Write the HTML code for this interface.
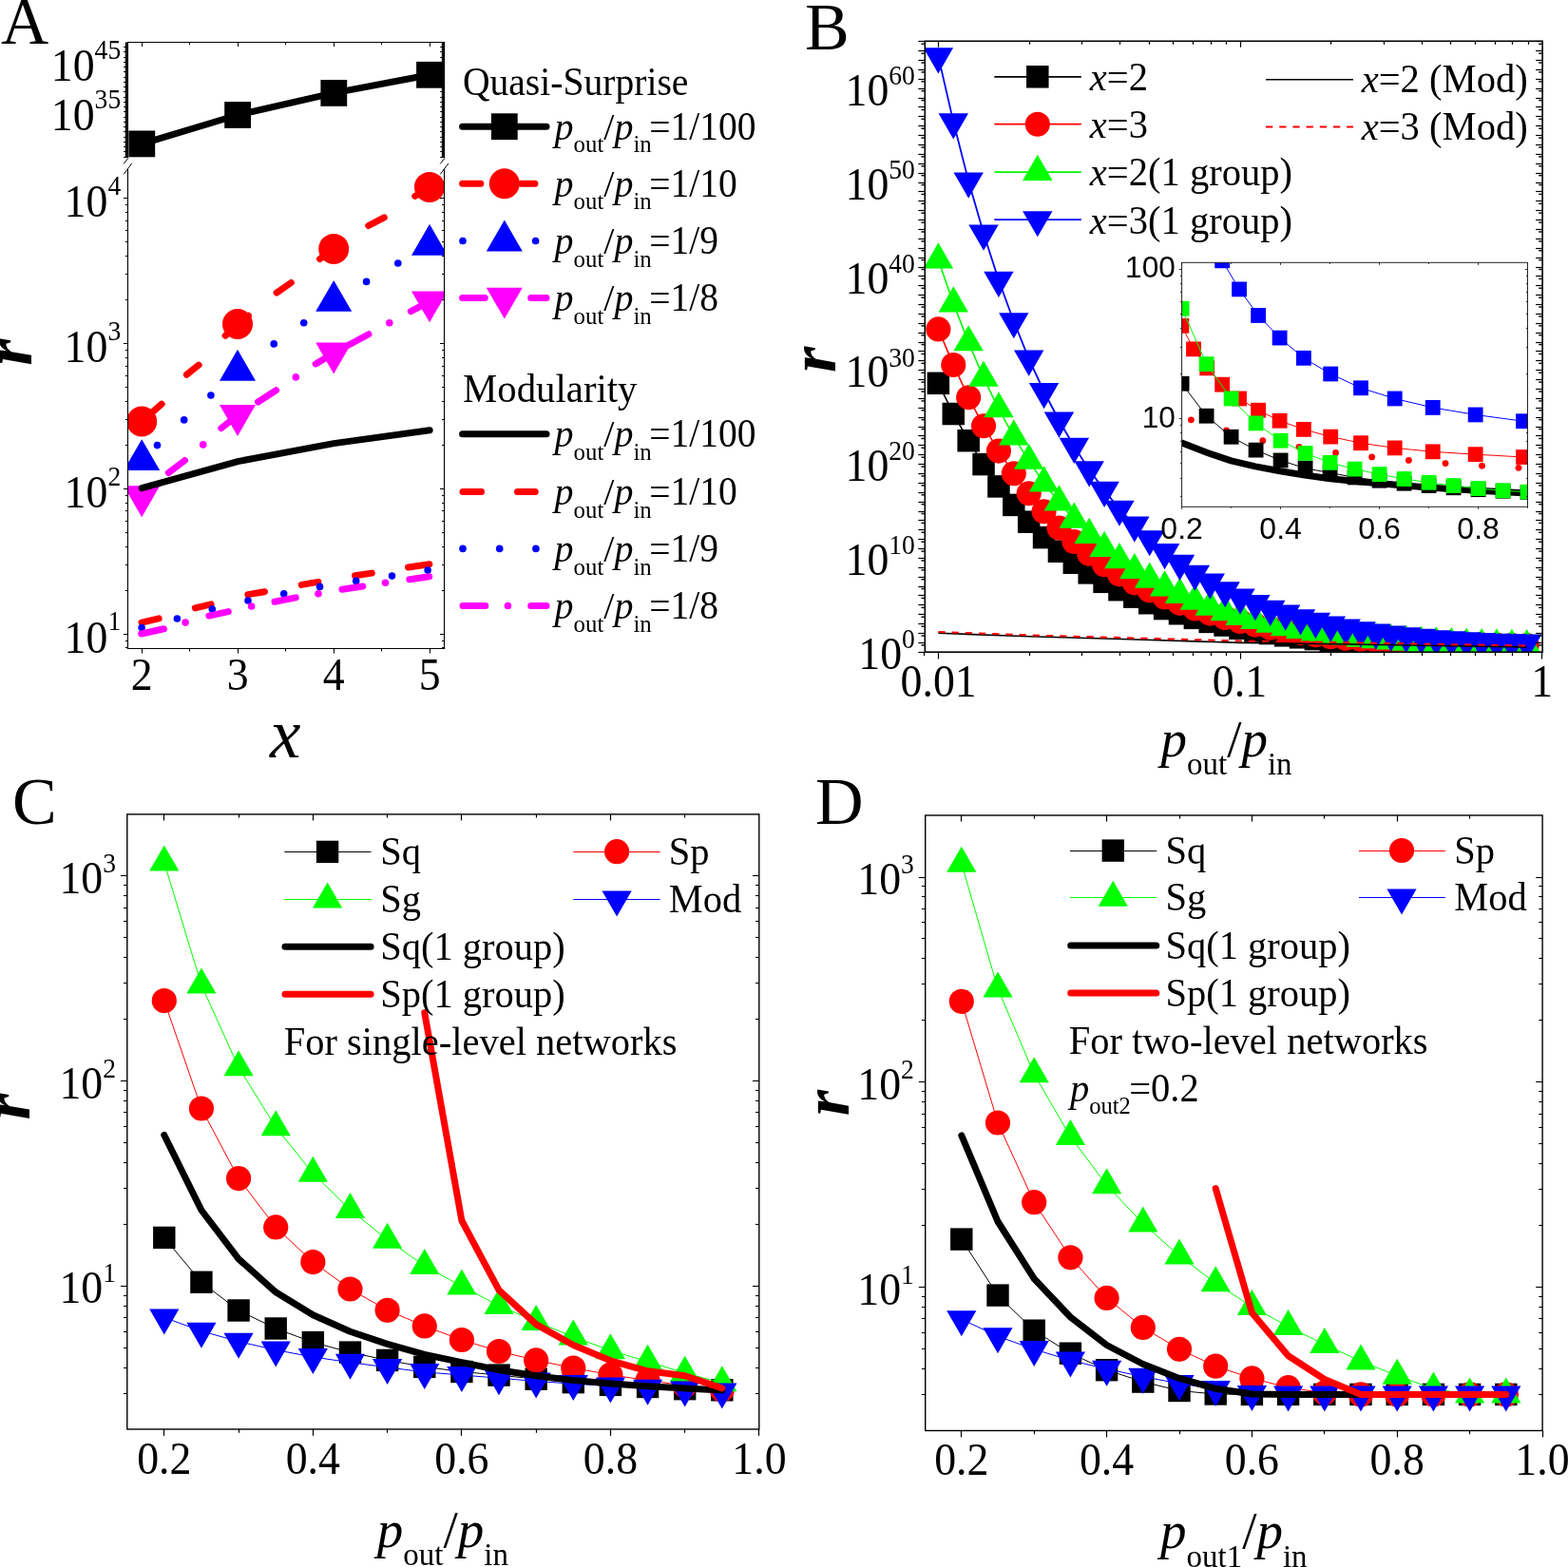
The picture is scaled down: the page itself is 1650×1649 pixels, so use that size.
<!DOCTYPE html>
<html><head><meta charset="utf-8"><title>Figure</title>
<style>
html,body{margin:0;padding:0;background:#fff;}
svg{display:block;}
text{fill:#000;}
</style></head>
<body>
<svg xmlns="http://www.w3.org/2000/svg" width="1650" height="1649" viewBox="0 0 1650 1649">
<rect x="0" y="0" width="1650" height="1649" fill="#fff"/>
<!-- Panel A -->
<text x="1.1" y="45.8" font-family='"Liberation Serif", "Times New Roman", serif' font-size="69.5" text-anchor="start"  >A</text>
<clipPath id="clipA1"><rect x="134.5" y="44.5" width="333.1" height="121.4"/></clipPath>
<g clip-path="url(#clipA1)">
<polyline points="149.3,151.4 250.1,121 351.3,97.9 452,78.8" fill="none" stroke="#000000" stroke-width="7" stroke-linecap="round" stroke-linejoin="round" />
<rect x="135.4" y="137.5" width="27.8" height="27.8" fill="#000000"/>
<rect x="236.2" y="107.1" width="27.8" height="27.8" fill="#000000"/>
<rect x="337.4" y="84" width="27.8" height="27.8" fill="#000000"/>
<rect x="438.1" y="64.9" width="27.8" height="27.8" fill="#000000"/>
</g>
<clipPath id="clipA2"><rect x="134.5" y="174" width="333.1" height="508.5"/></clipPath>
<g clip-path="url(#clipA2)">
<line x1="149" y1="655.18" x2="167.2" y2="650.82" stroke="#ff0000" stroke-width="7" stroke-linecap="round" />
<line x1="205.31" y1="639.79" x2="222.09" y2="635.81" stroke="#ff0000" stroke-width="7" stroke-linecap="round" />
<line x1="260.85" y1="625.62" x2="278.45" y2="622.68" stroke="#ff0000" stroke-width="7" stroke-linecap="round" />
<line x1="317.25" y1="615.41" x2="334.85" y2="612.39" stroke="#ff0000" stroke-width="7" stroke-linecap="round" />
<line x1="373.56" y1="605.78" x2="391.24" y2="603.12" stroke="#ff0000" stroke-width="7" stroke-linecap="round" />
<line x1="429.56" y1="597" x2="451.84" y2="593.8" stroke="#ff0000" stroke-width="7" stroke-linecap="round" />
<circle cx="149.1" cy="660.5" r="3.8" fill="#0000ff"/>
<circle cx="186.4" cy="651" r="3.8" fill="#0000ff"/>
<circle cx="223.3" cy="641" r="3.8" fill="#0000ff"/>
<circle cx="261" cy="632" r="3.8" fill="#0000ff"/>
<circle cx="298.7" cy="624.7" r="3.8" fill="#0000ff"/>
<circle cx="336.5" cy="617.4" r="3.8" fill="#0000ff"/>
<circle cx="374.7" cy="611.4" r="3.8" fill="#0000ff"/>
<circle cx="412.5" cy="606.1" r="3.8" fill="#0000ff"/>
<circle cx="450.1" cy="600.1" r="3.8" fill="#0000ff"/>
<line x1="148.72" y1="667.04" x2="172.48" y2="661.76" stroke="#ff00ff" stroke-width="7" stroke-linecap="round" />
<line x1="219.82" y1="648.05" x2="240.28" y2="643.55" stroke="#ff00ff" stroke-width="7" stroke-linecap="round" />
<line x1="289.03" y1="633.23" x2="311.27" y2="628.87" stroke="#ff00ff" stroke-width="7" stroke-linecap="round" />
<line x1="359.96" y1="620.27" x2="381.74" y2="616.93" stroke="#ff00ff" stroke-width="7" stroke-linecap="round" />
<line x1="430.87" y1="609.71" x2="451.73" y2="606.79" stroke="#ff00ff" stroke-width="7" stroke-linecap="round" />
<circle cx="195.1" cy="655.1" r="3.8" fill="#ff00ff"/>
<circle cx="264.6" cy="638" r="3.8" fill="#ff00ff"/>
<circle cx="335" cy="624.7" r="3.8" fill="#ff00ff"/>
<circle cx="405.5" cy="613.2" r="3.8" fill="#ff00ff"/>
<line x1="149.2" y1="443.5" x2="170.16" y2="425.2" stroke="#ff0000" stroke-width="7" stroke-linecap="round" />
<line x1="196.43" y1="394.31" x2="209.17" y2="384.09" stroke="#ff0000" stroke-width="7" stroke-linecap="round" />
<line x1="237.14" y1="353.19" x2="250" y2="341" stroke="#ff0000" stroke-width="7" stroke-linecap="round" />
<line x1="250" y1="341" x2="261.42" y2="332.23" stroke="#ff0000" stroke-width="7" stroke-linecap="round" />
<line x1="291.07" y1="308.1" x2="306.33" y2="297.5" stroke="#ff0000" stroke-width="7" stroke-linecap="round" />
<line x1="336.53" y1="272.54" x2="351.2" y2="261.9" stroke="#ff0000" stroke-width="7" stroke-linecap="round" />
<line x1="387.71" y1="237.49" x2="404.29" y2="228.91" stroke="#ff0000" stroke-width="7" stroke-linecap="round" />
<line x1="436.77" y1="206.35" x2="452" y2="196.9" stroke="#ff0000" stroke-width="7" stroke-linecap="round" />
<circle cx="165.5" cy="468.6" r="3.8" fill="#0000ff"/>
<circle cx="193.7" cy="441.9" r="3.8" fill="#0000ff"/>
<circle cx="221.9" cy="416" r="3.8" fill="#0000ff"/>
<circle cx="288.2" cy="361.9" r="3.8" fill="#0000ff"/>
<circle cx="319.7" cy="339.7" r="3.8" fill="#0000ff"/>
<circle cx="385.6" cy="296.4" r="3.8" fill="#0000ff"/>
<circle cx="418.8" cy="277" r="3.8" fill="#0000ff"/>
<line x1="177.39" y1="497.49" x2="194.51" y2="484.51" stroke="#ff00ff" stroke-width="7" stroke-linecap="round" />
<line x1="232.84" y1="450.62" x2="250" y2="437" stroke="#ff00ff" stroke-width="7" stroke-linecap="round" />
<line x1="271.54" y1="423" x2="290.56" y2="410.7" stroke="#ff00ff" stroke-width="7" stroke-linecap="round" />
<line x1="332.2" y1="382.9" x2="351.2" y2="371.5" stroke="#ff00ff" stroke-width="7" stroke-linecap="round" />
<line x1="351.2" y1="371.5" x2="387.92" y2="351.76" stroke="#ff00ff" stroke-width="7" stroke-linecap="round" />
<line x1="432.31" y1="327.59" x2="452" y2="317.4" stroke="#ff00ff" stroke-width="7" stroke-linecap="round" />
<circle cx="213.7" cy="467.9" r="3.8" fill="#ff00ff"/>
<circle cx="311.3" cy="396.9" r="3.8" fill="#ff00ff"/>
<circle cx="409.8" cy="339.7" r="3.8" fill="#ff00ff"/>
<circle cx="149.2" cy="443.5" r="16" fill="#ff0000"/>
<circle cx="250" cy="341" r="16" fill="#ff0000"/>
<circle cx="351.2" cy="261.9" r="16" fill="#ff0000"/>
<circle cx="452" cy="196.9" r="16" fill="#ff0000"/>
<polygon points="149.2,462.16 130.2,495.07 168.2,495.07" fill="#0000ff"/>
<polygon points="250,367.76 231,400.67 269,400.67" fill="#0000ff"/>
<polygon points="351.2,294.96 332.2,327.87 370.2,327.87" fill="#0000ff"/>
<polygon points="452,235.86 433,268.77 471,268.77" fill="#0000ff"/>
<polygon points="149.2,544.24 130.2,511.33 168.2,511.33" fill="#ff00ff"/>
<polygon points="250,458.94 231,426.03 269,426.03" fill="#ff00ff"/>
<polygon points="351.2,393.44 332.2,360.53 370.2,360.53" fill="#ff00ff"/>
<polygon points="452,339.34 433,306.43 471,306.43" fill="#ff00ff"/>
<polyline points="149.25,513.6 250.22,485.6 351.19,466.6 452.16,452.7" fill="none" stroke="#000000" stroke-width="7" stroke-linecap="round" stroke-linejoin="round" />
</g>
<line x1="134.5" y1="44.5" x2="134.5" y2="165.9" stroke="#000000" stroke-width="1.1" stroke-linecap="butt" />
<line x1="134.5" y1="178" x2="134.5" y2="682.5" stroke="#000000" stroke-width="1.1" stroke-linecap="butt" />
<line x1="467.5" y1="44.5" x2="467.5" y2="165.9" stroke="#000000" stroke-width="1.1" stroke-linecap="butt" />
<line x1="467.5" y1="178" x2="467.5" y2="682.5" stroke="#000000" stroke-width="1.1" stroke-linecap="butt" />
<line x1="133.85" y1="44.5" x2="468.25" y2="44.5" stroke="#000000" stroke-width="1.1" stroke-linecap="butt" />
<line x1="133.85" y1="682.5" x2="468.25" y2="682.5" stroke="#000000" stroke-width="1.1" stroke-linecap="butt" />
<line x1="130.2" y1="172.4" x2="135" y2="166.2" stroke="#000000" stroke-width="1" stroke-linecap="butt" />
<line x1="130.2" y1="183.4" x2="138.7" y2="172" stroke="#000000" stroke-width="1" stroke-linecap="butt" />
<line x1="463.3" y1="172.4" x2="468.1" y2="166.2" stroke="#000000" stroke-width="1" stroke-linecap="butt" />
<line x1="463.3" y1="183.4" x2="471.8" y2="172" stroke="#000000" stroke-width="1" stroke-linecap="butt" />
<rect x="131.7" y="44.5" width="2.8" height="121.4" fill="#000" opacity="0.92"/>
<rect x="464.8" y="44.5" width="2.8" height="121.4" fill="#000" opacity="0.92"/>
<line x1="130.1" y1="49.5" x2="134.5" y2="49.5" stroke="#000000" stroke-width="1" stroke-linecap="butt" />
<line x1="463.2" y1="49.5" x2="467.6" y2="49.5" stroke="#000000" stroke-width="1" stroke-linecap="butt" />
<line x1="130.1" y1="54.5" x2="134.5" y2="54.5" stroke="#000000" stroke-width="1" stroke-linecap="butt" />
<line x1="463.2" y1="54.5" x2="467.6" y2="54.5" stroke="#000000" stroke-width="1" stroke-linecap="butt" />
<line x1="130.1" y1="60.5" x2="134.5" y2="60.5" stroke="#000000" stroke-width="1" stroke-linecap="butt" />
<line x1="463.2" y1="60.5" x2="467.6" y2="60.5" stroke="#000000" stroke-width="1" stroke-linecap="butt" />
<line x1="130.1" y1="65.5" x2="134.5" y2="65.5" stroke="#000000" stroke-width="1" stroke-linecap="butt" />
<line x1="463.2" y1="65.5" x2="467.6" y2="65.5" stroke="#000000" stroke-width="1" stroke-linecap="butt" />
<line x1="130.1" y1="70.5" x2="134.5" y2="70.5" stroke="#000000" stroke-width="1" stroke-linecap="butt" />
<line x1="463.2" y1="70.5" x2="467.6" y2="70.5" stroke="#000000" stroke-width="1" stroke-linecap="butt" />
<line x1="130.1" y1="75.5" x2="134.5" y2="75.5" stroke="#000000" stroke-width="1" stroke-linecap="butt" />
<line x1="463.2" y1="75.5" x2="467.6" y2="75.5" stroke="#000000" stroke-width="1" stroke-linecap="butt" />
<line x1="130.1" y1="81.5" x2="134.5" y2="81.5" stroke="#000000" stroke-width="1" stroke-linecap="butt" />
<line x1="463.2" y1="81.5" x2="467.6" y2="81.5" stroke="#000000" stroke-width="1" stroke-linecap="butt" />
<line x1="130.1" y1="86.5" x2="134.5" y2="86.5" stroke="#000000" stroke-width="1" stroke-linecap="butt" />
<line x1="463.2" y1="86.5" x2="467.6" y2="86.5" stroke="#000000" stroke-width="1" stroke-linecap="butt" />
<line x1="130.1" y1="91.5" x2="134.5" y2="91.5" stroke="#000000" stroke-width="1" stroke-linecap="butt" />
<line x1="463.2" y1="91.5" x2="467.6" y2="91.5" stroke="#000000" stroke-width="1" stroke-linecap="butt" />
<line x1="130.1" y1="96.5" x2="134.5" y2="96.5" stroke="#000000" stroke-width="1" stroke-linecap="butt" />
<line x1="463.2" y1="96.5" x2="467.6" y2="96.5" stroke="#000000" stroke-width="1" stroke-linecap="butt" />
<line x1="130.1" y1="102.5" x2="134.5" y2="102.5" stroke="#000000" stroke-width="1" stroke-linecap="butt" />
<line x1="463.2" y1="102.5" x2="467.6" y2="102.5" stroke="#000000" stroke-width="1" stroke-linecap="butt" />
<line x1="130.1" y1="107.5" x2="134.5" y2="107.5" stroke="#000000" stroke-width="1" stroke-linecap="butt" />
<line x1="463.2" y1="107.5" x2="467.6" y2="107.5" stroke="#000000" stroke-width="1" stroke-linecap="butt" />
<line x1="130.1" y1="112.5" x2="134.5" y2="112.5" stroke="#000000" stroke-width="1" stroke-linecap="butt" />
<line x1="463.2" y1="112.5" x2="467.6" y2="112.5" stroke="#000000" stroke-width="1" stroke-linecap="butt" />
<line x1="130.1" y1="117.5" x2="134.5" y2="117.5" stroke="#000000" stroke-width="1" stroke-linecap="butt" />
<line x1="463.2" y1="117.5" x2="467.6" y2="117.5" stroke="#000000" stroke-width="1" stroke-linecap="butt" />
<line x1="130.1" y1="123.5" x2="134.5" y2="123.5" stroke="#000000" stroke-width="1" stroke-linecap="butt" />
<line x1="463.2" y1="123.5" x2="467.6" y2="123.5" stroke="#000000" stroke-width="1" stroke-linecap="butt" />
<line x1="130.1" y1="128.5" x2="134.5" y2="128.5" stroke="#000000" stroke-width="1" stroke-linecap="butt" />
<line x1="463.2" y1="128.5" x2="467.6" y2="128.5" stroke="#000000" stroke-width="1" stroke-linecap="butt" />
<line x1="130.1" y1="133.5" x2="134.5" y2="133.5" stroke="#000000" stroke-width="1" stroke-linecap="butt" />
<line x1="463.2" y1="133.5" x2="467.6" y2="133.5" stroke="#000000" stroke-width="1" stroke-linecap="butt" />
<line x1="130.1" y1="138.5" x2="134.5" y2="138.5" stroke="#000000" stroke-width="1" stroke-linecap="butt" />
<line x1="463.2" y1="138.5" x2="467.6" y2="138.5" stroke="#000000" stroke-width="1" stroke-linecap="butt" />
<line x1="130.1" y1="144.5" x2="134.5" y2="144.5" stroke="#000000" stroke-width="1" stroke-linecap="butt" />
<line x1="463.2" y1="144.5" x2="467.6" y2="144.5" stroke="#000000" stroke-width="1" stroke-linecap="butt" />
<line x1="130.1" y1="149.5" x2="134.5" y2="149.5" stroke="#000000" stroke-width="1" stroke-linecap="butt" />
<line x1="463.2" y1="149.5" x2="467.6" y2="149.5" stroke="#000000" stroke-width="1" stroke-linecap="butt" />
<line x1="130.1" y1="154.5" x2="134.5" y2="154.5" stroke="#000000" stroke-width="1" stroke-linecap="butt" />
<line x1="463.2" y1="154.5" x2="467.6" y2="154.5" stroke="#000000" stroke-width="1" stroke-linecap="butt" />
<line x1="130.1" y1="159.5" x2="134.5" y2="159.5" stroke="#000000" stroke-width="1" stroke-linecap="butt" />
<line x1="463.2" y1="159.5" x2="467.6" y2="159.5" stroke="#000000" stroke-width="1" stroke-linecap="butt" />
<line x1="130.1" y1="165.5" x2="134.5" y2="165.5" stroke="#000000" stroke-width="1" stroke-linecap="butt" />
<line x1="463.2" y1="165.5" x2="467.6" y2="165.5" stroke="#000000" stroke-width="1" stroke-linecap="butt" />
<line x1="131.9" y1="681.5" x2="134.5" y2="681.5" stroke="#000000" stroke-width="1" stroke-linecap="butt" />
<line x1="465" y1="681.5" x2="467.6" y2="681.5" stroke="#000000" stroke-width="1" stroke-linecap="butt" />
<line x1="131.9" y1="674.5" x2="134.5" y2="674.5" stroke="#000000" stroke-width="1" stroke-linecap="butt" />
<line x1="465" y1="674.5" x2="467.6" y2="674.5" stroke="#000000" stroke-width="1" stroke-linecap="butt" />
<line x1="129.9" y1="667.5" x2="134.5" y2="667.5" stroke="#000000" stroke-width="1" stroke-linecap="butt" />
<line x1="463" y1="667.5" x2="467.6" y2="667.5" stroke="#000000" stroke-width="1" stroke-linecap="butt" />
<line x1="131.9" y1="621.5" x2="134.5" y2="621.5" stroke="#000000" stroke-width="1" stroke-linecap="butt" />
<line x1="465" y1="621.5" x2="467.6" y2="621.5" stroke="#000000" stroke-width="1" stroke-linecap="butt" />
<line x1="131.9" y1="594.5" x2="134.5" y2="594.5" stroke="#000000" stroke-width="1" stroke-linecap="butt" />
<line x1="465" y1="594.5" x2="467.6" y2="594.5" stroke="#000000" stroke-width="1" stroke-linecap="butt" />
<line x1="131.9" y1="575.5" x2="134.5" y2="575.5" stroke="#000000" stroke-width="1" stroke-linecap="butt" />
<line x1="465" y1="575.5" x2="467.6" y2="575.5" stroke="#000000" stroke-width="1" stroke-linecap="butt" />
<line x1="131.9" y1="560.5" x2="134.5" y2="560.5" stroke="#000000" stroke-width="1" stroke-linecap="butt" />
<line x1="465" y1="560.5" x2="467.6" y2="560.5" stroke="#000000" stroke-width="1" stroke-linecap="butt" />
<line x1="131.9" y1="548.5" x2="134.5" y2="548.5" stroke="#000000" stroke-width="1" stroke-linecap="butt" />
<line x1="465" y1="548.5" x2="467.6" y2="548.5" stroke="#000000" stroke-width="1" stroke-linecap="butt" />
<line x1="131.9" y1="537.5" x2="134.5" y2="537.5" stroke="#000000" stroke-width="1" stroke-linecap="butt" />
<line x1="465" y1="537.5" x2="467.6" y2="537.5" stroke="#000000" stroke-width="1" stroke-linecap="butt" />
<line x1="131.9" y1="529.5" x2="134.5" y2="529.5" stroke="#000000" stroke-width="1" stroke-linecap="butt" />
<line x1="465" y1="529.5" x2="467.6" y2="529.5" stroke="#000000" stroke-width="1" stroke-linecap="butt" />
<line x1="131.9" y1="521.5" x2="134.5" y2="521.5" stroke="#000000" stroke-width="1" stroke-linecap="butt" />
<line x1="465" y1="521.5" x2="467.6" y2="521.5" stroke="#000000" stroke-width="1" stroke-linecap="butt" />
<line x1="129.9" y1="514.5" x2="134.5" y2="514.5" stroke="#000000" stroke-width="1" stroke-linecap="butt" />
<line x1="463" y1="514.5" x2="467.6" y2="514.5" stroke="#000000" stroke-width="1" stroke-linecap="butt" />
<line x1="131.9" y1="468.5" x2="134.5" y2="468.5" stroke="#000000" stroke-width="1" stroke-linecap="butt" />
<line x1="465" y1="468.5" x2="467.6" y2="468.5" stroke="#000000" stroke-width="1" stroke-linecap="butt" />
<line x1="131.9" y1="441.5" x2="134.5" y2="441.5" stroke="#000000" stroke-width="1" stroke-linecap="butt" />
<line x1="465" y1="441.5" x2="467.6" y2="441.5" stroke="#000000" stroke-width="1" stroke-linecap="butt" />
<line x1="131.9" y1="422.5" x2="134.5" y2="422.5" stroke="#000000" stroke-width="1" stroke-linecap="butt" />
<line x1="465" y1="422.5" x2="467.6" y2="422.5" stroke="#000000" stroke-width="1" stroke-linecap="butt" />
<line x1="131.9" y1="407.5" x2="134.5" y2="407.5" stroke="#000000" stroke-width="1" stroke-linecap="butt" />
<line x1="465" y1="407.5" x2="467.6" y2="407.5" stroke="#000000" stroke-width="1" stroke-linecap="butt" />
<line x1="131.9" y1="395.5" x2="134.5" y2="395.5" stroke="#000000" stroke-width="1" stroke-linecap="butt" />
<line x1="465" y1="395.5" x2="467.6" y2="395.5" stroke="#000000" stroke-width="1" stroke-linecap="butt" />
<line x1="131.9" y1="385.5" x2="134.5" y2="385.5" stroke="#000000" stroke-width="1" stroke-linecap="butt" />
<line x1="465" y1="385.5" x2="467.6" y2="385.5" stroke="#000000" stroke-width="1" stroke-linecap="butt" />
<line x1="131.9" y1="376.5" x2="134.5" y2="376.5" stroke="#000000" stroke-width="1" stroke-linecap="butt" />
<line x1="465" y1="376.5" x2="467.6" y2="376.5" stroke="#000000" stroke-width="1" stroke-linecap="butt" />
<line x1="131.9" y1="368.5" x2="134.5" y2="368.5" stroke="#000000" stroke-width="1" stroke-linecap="butt" />
<line x1="465" y1="368.5" x2="467.6" y2="368.5" stroke="#000000" stroke-width="1" stroke-linecap="butt" />
<line x1="129.9" y1="361.5" x2="134.5" y2="361.5" stroke="#000000" stroke-width="1" stroke-linecap="butt" />
<line x1="463" y1="361.5" x2="467.6" y2="361.5" stroke="#000000" stroke-width="1" stroke-linecap="butt" />
<line x1="131.9" y1="315.5" x2="134.5" y2="315.5" stroke="#000000" stroke-width="1" stroke-linecap="butt" />
<line x1="465" y1="315.5" x2="467.6" y2="315.5" stroke="#000000" stroke-width="1" stroke-linecap="butt" />
<line x1="131.9" y1="288.5" x2="134.5" y2="288.5" stroke="#000000" stroke-width="1" stroke-linecap="butt" />
<line x1="465" y1="288.5" x2="467.6" y2="288.5" stroke="#000000" stroke-width="1" stroke-linecap="butt" />
<line x1="131.9" y1="269.5" x2="134.5" y2="269.5" stroke="#000000" stroke-width="1" stroke-linecap="butt" />
<line x1="465" y1="269.5" x2="467.6" y2="269.5" stroke="#000000" stroke-width="1" stroke-linecap="butt" />
<line x1="131.9" y1="254.5" x2="134.5" y2="254.5" stroke="#000000" stroke-width="1" stroke-linecap="butt" />
<line x1="465" y1="254.5" x2="467.6" y2="254.5" stroke="#000000" stroke-width="1" stroke-linecap="butt" />
<line x1="131.9" y1="242.5" x2="134.5" y2="242.5" stroke="#000000" stroke-width="1" stroke-linecap="butt" />
<line x1="465" y1="242.5" x2="467.6" y2="242.5" stroke="#000000" stroke-width="1" stroke-linecap="butt" />
<line x1="131.9" y1="232.5" x2="134.5" y2="232.5" stroke="#000000" stroke-width="1" stroke-linecap="butt" />
<line x1="465" y1="232.5" x2="467.6" y2="232.5" stroke="#000000" stroke-width="1" stroke-linecap="butt" />
<line x1="131.9" y1="223.5" x2="134.5" y2="223.5" stroke="#000000" stroke-width="1" stroke-linecap="butt" />
<line x1="465" y1="223.5" x2="467.6" y2="223.5" stroke="#000000" stroke-width="1" stroke-linecap="butt" />
<line x1="131.9" y1="215.5" x2="134.5" y2="215.5" stroke="#000000" stroke-width="1" stroke-linecap="butt" />
<line x1="465" y1="215.5" x2="467.6" y2="215.5" stroke="#000000" stroke-width="1" stroke-linecap="butt" />
<line x1="129.9" y1="208.5" x2="134.5" y2="208.5" stroke="#000000" stroke-width="1" stroke-linecap="butt" />
<line x1="463" y1="208.5" x2="467.6" y2="208.5" stroke="#000000" stroke-width="1" stroke-linecap="butt" />
<line x1="149.5" y1="682.5" x2="149.5" y2="687.5" stroke="#000000" stroke-width="1" stroke-linecap="butt" />
<line x1="149.5" y1="44.5" x2="149.5" y2="49" stroke="#000000" stroke-width="1" stroke-linecap="butt" />
<line x1="199.5" y1="682.5" x2="199.5" y2="685.5" stroke="#000000" stroke-width="1" stroke-linecap="butt" />
<line x1="199.5" y1="44.5" x2="199.5" y2="47.2" stroke="#000000" stroke-width="1" stroke-linecap="butt" />
<line x1="250.5" y1="682.5" x2="250.5" y2="687.5" stroke="#000000" stroke-width="1" stroke-linecap="butt" />
<line x1="250.5" y1="44.5" x2="250.5" y2="49" stroke="#000000" stroke-width="1" stroke-linecap="butt" />
<line x1="300.5" y1="682.5" x2="300.5" y2="685.5" stroke="#000000" stroke-width="1" stroke-linecap="butt" />
<line x1="300.5" y1="44.5" x2="300.5" y2="47.2" stroke="#000000" stroke-width="1" stroke-linecap="butt" />
<line x1="351.5" y1="682.5" x2="351.5" y2="687.5" stroke="#000000" stroke-width="1" stroke-linecap="butt" />
<line x1="351.5" y1="44.5" x2="351.5" y2="49" stroke="#000000" stroke-width="1" stroke-linecap="butt" />
<line x1="401.5" y1="682.5" x2="401.5" y2="685.5" stroke="#000000" stroke-width="1" stroke-linecap="butt" />
<line x1="401.5" y1="44.5" x2="401.5" y2="47.2" stroke="#000000" stroke-width="1" stroke-linecap="butt" />
<line x1="452.5" y1="682.5" x2="452.5" y2="687.5" stroke="#000000" stroke-width="1" stroke-linecap="butt" />
<line x1="452.5" y1="44.5" x2="452.5" y2="49" stroke="#000000" stroke-width="1" stroke-linecap="butt" />
<text transform="translate(127.2 84.8) scale(1 1.0400)" font-family='"Liberation Serif", "Times New Roman", serif' font-size="45.8" text-anchor="end"  >10<tspan font-size="27.6" dy="-22.12">45</tspan></text>
<text transform="translate(127.2 137.3) scale(1 1.0400)" font-family='"Liberation Serif", "Times New Roman", serif' font-size="45.8" text-anchor="end"  >10<tspan font-size="27.6" dy="-22.12">35</tspan></text>
<text transform="translate(127.2 228.1) scale(1 1.0400)" font-family='"Liberation Serif", "Times New Roman", serif' font-size="45.8" text-anchor="end"  >10<tspan font-size="27.6" dy="-22.12">4</tspan></text>
<text transform="translate(127.2 380.9) scale(1 1.0400)" font-family='"Liberation Serif", "Times New Roman", serif' font-size="45.8" text-anchor="end"  >10<tspan font-size="27.6" dy="-22.12">3</tspan></text>
<text transform="translate(127.2 533.7) scale(1 1.0400)" font-family='"Liberation Serif", "Times New Roman", serif' font-size="45.8" text-anchor="end"  >10<tspan font-size="27.6" dy="-22.12">2</tspan></text>
<text transform="translate(127.2 686.5) scale(1 1.0400)" font-family='"Liberation Serif", "Times New Roman", serif' font-size="45.8" text-anchor="end"  >10<tspan font-size="27.6" dy="-22.12">1</tspan></text>
<text transform="translate(149.25 725.6) scale(1 1.0400)" font-family='"Liberation Serif", "Times New Roman", serif' font-size="45.8" text-anchor="middle"  >2</text>
<text transform="translate(250.22 725.6) scale(1 1.0400)" font-family='"Liberation Serif", "Times New Roman", serif' font-size="45.8" text-anchor="middle"  >3</text>
<text transform="translate(351.19 725.6) scale(1 1.0400)" font-family='"Liberation Serif", "Times New Roman", serif' font-size="45.8" text-anchor="middle"  >4</text>
<text transform="translate(452.16 725.6) scale(1 1.0400)" font-family='"Liberation Serif", "Times New Roman", serif' font-size="45.8" text-anchor="middle"  >5</text>
<text transform="translate(32.8,370.8) rotate(-90)" font-family='"Liberation Serif", "Times New Roman", serif' font-size="72" font-style="italic" font-weight="bold" text-anchor="middle">r</text>
<text x="300.2" y="796.9" font-family='"Liberation Serif", "Times New Roman", serif' font-size="73" text-anchor="middle" font-style="italic" >x</text>
<text transform="translate(486.9 99.5) scale(1 1.0900)" font-family='"Liberation Serif", "Times New Roman", serif' font-size="39.6" text-anchor="start"  >Quasi-Surprise</text>
<line x1="486.6" y1="133.2" x2="575" y2="133.2" stroke="#000000" stroke-width="7" stroke-linecap="round" />
<rect x="516.9" y="119.3" width="27.8" height="27.8" fill="#000000"/>
<line x1="486.6" y1="193.3" x2="505.8" y2="193.3" stroke="#ff0000" stroke-width="7" stroke-linecap="round" />
<line x1="548.5" y1="193.3" x2="562.9" y2="193.3" stroke="#ff0000" stroke-width="7" stroke-linecap="round" />
<circle cx="530.8" cy="193.3" r="16" fill="#ff0000"/>
<circle cx="487" cy="253.5" r="3.8" fill="#0000ff"/>
<circle cx="563.6" cy="253.5" r="3.8" fill="#0000ff"/>
<polygon points="530.8,231.56 511.8,264.47 549.8,264.47" fill="#0000ff"/>
<line x1="486.6" y1="313.6" x2="510.2" y2="313.6" stroke="#ff00ff" stroke-width="7" stroke-linecap="round" />
<line x1="558.7" y1="313.6" x2="575" y2="313.6" stroke="#ff00ff" stroke-width="7" stroke-linecap="round" />
<polygon points="530.8,335.54 511.8,302.63 549.8,302.63" fill="#ff00ff"/>
<text x="583.6" y="146.5" font-family='"Liberation Serif", "Times New Roman", serif' font-size="40" text-anchor="start"  ><tspan font-style="italic">p</tspan><tspan font-size="24.8" dy="13.8">out</tspan><tspan dy="-13.8">/</tspan><tspan font-style="italic">p</tspan><tspan font-size="24.8" dy="13.8">in</tspan></text>
<text transform="translate(683.2 146.5) scale(1 1.0800)" font-family='"Liberation Serif", "Times New Roman", serif' font-size="39.5" text-anchor="start"  >=1/100</text>
<text x="583.6" y="206.6" font-family='"Liberation Serif", "Times New Roman", serif' font-size="40" text-anchor="start"  ><tspan font-style="italic">p</tspan><tspan font-size="24.8" dy="13.8">out</tspan><tspan dy="-13.8">/</tspan><tspan font-style="italic">p</tspan><tspan font-size="24.8" dy="13.8">in</tspan></text>
<text transform="translate(683.2 206.6) scale(1 1.0800)" font-family='"Liberation Serif", "Times New Roman", serif' font-size="39.5" text-anchor="start"  >=1/10</text>
<text x="583.6" y="266.8" font-family='"Liberation Serif", "Times New Roman", serif' font-size="40" text-anchor="start"  ><tspan font-style="italic">p</tspan><tspan font-size="24.8" dy="13.8">out</tspan><tspan dy="-13.8">/</tspan><tspan font-style="italic">p</tspan><tspan font-size="24.8" dy="13.8">in</tspan></text>
<text transform="translate(683.2 266.8) scale(1 1.0800)" font-family='"Liberation Serif", "Times New Roman", serif' font-size="39.5" text-anchor="start"  >=1/9</text>
<text x="583.6" y="326.9" font-family='"Liberation Serif", "Times New Roman", serif' font-size="40" text-anchor="start"  ><tspan font-style="italic">p</tspan><tspan font-size="24.8" dy="13.8">out</tspan><tspan dy="-13.8">/</tspan><tspan font-style="italic">p</tspan><tspan font-size="24.8" dy="13.8">in</tspan></text>
<text transform="translate(683.2 326.9) scale(1 1.0800)" font-family='"Liberation Serif", "Times New Roman", serif' font-size="39.5" text-anchor="start"  >=1/8</text>
<text transform="translate(487 423.4) scale(1 1.0580)" font-family='"Liberation Serif", "Times New Roman", serif' font-size="40.8" text-anchor="start"  >Modularity</text>
<line x1="486.6" y1="456.7" x2="575" y2="456.7" stroke="#000000" stroke-width="7" stroke-linecap="round" />
<line x1="487" y1="517.4" x2="506.5" y2="517.4" stroke="#ff0000" stroke-width="7" stroke-linecap="round" />
<line x1="544.5" y1="517.4" x2="563.2" y2="517.4" stroke="#ff0000" stroke-width="7" stroke-linecap="round" />
<circle cx="487" cy="577.4" r="3.8" fill="#0000ff"/>
<circle cx="525.7" cy="577.4" r="3.8" fill="#0000ff"/>
<circle cx="563.9" cy="577.4" r="3.8" fill="#0000ff"/>
<line x1="487" y1="637.5" x2="510.8" y2="637.5" stroke="#ff00ff" stroke-width="7" stroke-linecap="round" />
<line x1="558.7" y1="637.5" x2="575" y2="637.5" stroke="#ff00ff" stroke-width="7" stroke-linecap="round" />
<circle cx="534.4" cy="637.5" r="3.8" fill="#ff00ff"/>
<text x="583.6" y="470.2" font-family='"Liberation Serif", "Times New Roman", serif' font-size="40" text-anchor="start"  ><tspan font-style="italic">p</tspan><tspan font-size="24.8" dy="13.8">out</tspan><tspan dy="-13.8">/</tspan><tspan font-style="italic">p</tspan><tspan font-size="24.8" dy="13.8">in</tspan></text>
<text transform="translate(683.2 470.2) scale(1 1.0800)" font-family='"Liberation Serif", "Times New Roman", serif' font-size="39.5" text-anchor="start"  >=1/100</text>
<text x="583.6" y="530.9" font-family='"Liberation Serif", "Times New Roman", serif' font-size="40" text-anchor="start"  ><tspan font-style="italic">p</tspan><tspan font-size="24.8" dy="13.8">out</tspan><tspan dy="-13.8">/</tspan><tspan font-style="italic">p</tspan><tspan font-size="24.8" dy="13.8">in</tspan></text>
<text transform="translate(683.2 530.9) scale(1 1.0800)" font-family='"Liberation Serif", "Times New Roman", serif' font-size="39.5" text-anchor="start"  >=1/10</text>
<text x="583.6" y="590.9" font-family='"Liberation Serif", "Times New Roman", serif' font-size="40" text-anchor="start"  ><tspan font-style="italic">p</tspan><tspan font-size="24.8" dy="13.8">out</tspan><tspan dy="-13.8">/</tspan><tspan font-style="italic">p</tspan><tspan font-size="24.8" dy="13.8">in</tspan></text>
<text transform="translate(683.2 590.9) scale(1 1.0800)" font-family='"Liberation Serif", "Times New Roman", serif' font-size="39.5" text-anchor="start"  >=1/9</text>
<text x="583.6" y="651" font-family='"Liberation Serif", "Times New Roman", serif' font-size="40" text-anchor="start"  ><tspan font-style="italic">p</tspan><tspan font-size="24.8" dy="13.8">out</tspan><tspan dy="-13.8">/</tspan><tspan font-style="italic">p</tspan><tspan font-size="24.8" dy="13.8">in</tspan></text>
<text transform="translate(683.2 651) scale(1 1.0800)" font-family='"Liberation Serif", "Times New Roman", serif' font-size="39.5" text-anchor="start"  >=1/8</text>
<!-- Panel B -->
<text x="847" y="52" font-family='"Liberation Serif", "Times New Roman", serif' font-size="70" text-anchor="start"  >B</text>
<clipPath id="clipB"><rect x="973.3" y="43.3" width="649.8" height="642.9"/></clipPath>
<g clip-path="url(#clipB)">
<polyline points="987.4,403.3 1003.28,435.5 1019.16,463.7 1035.04,488.6 1050.92,511.9 1066.8,531.4 1082.68,549.2 1098.56,565.6 1114.44,580.2 1130.32,592.22 1146.2,602.88 1162.08,612.32 1177.96,620.7 1193.84,628.13 1209.72,634.72 1225.6,640.57 1241.48,645.75 1257.36,650.34 1273.24,654.41 1289.12,658.02 1305,661.23 1320.88,664.07 1336.76,666.59 1352.64,668.82 1368.52,670.8 1384.4,672.55 1400.28,674.11 1416.16,675.13 1432.04,676.28 1447.92,677.13 1463.8,677.91 1479.68,678.57 1495.56,679.16 1511.44,679.67 1527.32,680.01 1543.2,680.36 1559.08,680.63 1574.96,680.88 1590.84,681.1 1606.72,681.27" fill="none" stroke="#000000" stroke-width="1.6" stroke-linecap="round" stroke-linejoin="round" />
<rect x="975.65" y="391.55" width="23.5" height="23.5" fill="#000000"/>
<rect x="991.53" y="423.75" width="23.5" height="23.5" fill="#000000"/>
<rect x="1007.41" y="451.95" width="23.5" height="23.5" fill="#000000"/>
<rect x="1023.29" y="476.85" width="23.5" height="23.5" fill="#000000"/>
<rect x="1039.17" y="500.15" width="23.5" height="23.5" fill="#000000"/>
<rect x="1055.05" y="519.65" width="23.5" height="23.5" fill="#000000"/>
<rect x="1070.93" y="537.45" width="23.5" height="23.5" fill="#000000"/>
<rect x="1086.81" y="553.85" width="23.5" height="23.5" fill="#000000"/>
<rect x="1102.69" y="568.45" width="23.5" height="23.5" fill="#000000"/>
<rect x="1118.57" y="580.47" width="23.5" height="23.5" fill="#000000"/>
<rect x="1134.45" y="591.13" width="23.5" height="23.5" fill="#000000"/>
<rect x="1150.33" y="600.57" width="23.5" height="23.5" fill="#000000"/>
<rect x="1166.21" y="608.95" width="23.5" height="23.5" fill="#000000"/>
<rect x="1182.09" y="616.38" width="23.5" height="23.5" fill="#000000"/>
<rect x="1197.97" y="622.97" width="23.5" height="23.5" fill="#000000"/>
<rect x="1213.85" y="628.82" width="23.5" height="23.5" fill="#000000"/>
<rect x="1229.73" y="634" width="23.5" height="23.5" fill="#000000"/>
<rect x="1245.61" y="638.59" width="23.5" height="23.5" fill="#000000"/>
<rect x="1261.49" y="642.66" width="23.5" height="23.5" fill="#000000"/>
<rect x="1277.37" y="646.27" width="23.5" height="23.5" fill="#000000"/>
<rect x="1293.25" y="649.48" width="23.5" height="23.5" fill="#000000"/>
<rect x="1309.13" y="652.32" width="23.5" height="23.5" fill="#000000"/>
<rect x="1325.01" y="654.84" width="23.5" height="23.5" fill="#000000"/>
<rect x="1340.89" y="657.07" width="23.5" height="23.5" fill="#000000"/>
<rect x="1356.77" y="659.05" width="23.5" height="23.5" fill="#000000"/>
<rect x="1372.65" y="660.8" width="23.5" height="23.5" fill="#000000"/>
<rect x="1388.53" y="662.36" width="23.5" height="23.5" fill="#000000"/>
<rect x="1404.41" y="663.38" width="23.5" height="23.5" fill="#000000"/>
<rect x="1420.29" y="664.53" width="23.5" height="23.5" fill="#000000"/>
<rect x="1436.17" y="665.38" width="23.5" height="23.5" fill="#000000"/>
<rect x="1452.05" y="666.16" width="23.5" height="23.5" fill="#000000"/>
<rect x="1467.93" y="666.82" width="23.5" height="23.5" fill="#000000"/>
<rect x="1483.81" y="667.41" width="23.5" height="23.5" fill="#000000"/>
<rect x="1499.69" y="667.92" width="23.5" height="23.5" fill="#000000"/>
<rect x="1515.57" y="668.26" width="23.5" height="23.5" fill="#000000"/>
<rect x="1531.45" y="668.61" width="23.5" height="23.5" fill="#000000"/>
<rect x="1547.33" y="668.88" width="23.5" height="23.5" fill="#000000"/>
<rect x="1563.21" y="669.13" width="23.5" height="23.5" fill="#000000"/>
<rect x="1579.09" y="669.35" width="23.5" height="23.5" fill="#000000"/>
<rect x="1594.97" y="669.52" width="23.5" height="23.5" fill="#000000"/>
<polyline points="987.4,346.4 1003.28,384 1019.16,418.2 1035.04,448.3 1050.92,474.6 1066.8,498.3 1082.68,519.2 1098.56,538.3 1114.44,555.6 1130.32,569.99 1146.2,582.79 1162.08,594.19 1177.96,604.33 1193.84,613.35 1209.72,621.38 1225.6,628.53 1241.48,634.89 1257.36,640.55 1273.24,645.59 1289.12,650.07 1305,654.06 1320.88,657.61 1336.76,660.77 1352.64,663.58 1368.52,666.08 1384.4,668.31 1400.28,670.29 1416.16,671.83 1432.04,673.08 1447.92,674.17 1463.8,675.1 1479.68,675.87 1495.56,676.56 1511.44,677.14 1527.32,677.62 1543.2,678.04 1559.08,678.36 1574.96,678.61 1590.84,678.79 1606.72,678.97" fill="none" stroke="#ff0000" stroke-width="1.6" stroke-linecap="round" stroke-linejoin="round" />
<circle cx="987.4" cy="346.4" r="13.05" fill="#ff0000"/>
<circle cx="1003.28" cy="384" r="13.05" fill="#ff0000"/>
<circle cx="1019.16" cy="418.2" r="13.05" fill="#ff0000"/>
<circle cx="1035.04" cy="448.3" r="13.05" fill="#ff0000"/>
<circle cx="1050.92" cy="474.6" r="13.05" fill="#ff0000"/>
<circle cx="1066.8" cy="498.3" r="13.05" fill="#ff0000"/>
<circle cx="1082.68" cy="519.2" r="13.05" fill="#ff0000"/>
<circle cx="1098.56" cy="538.3" r="13.05" fill="#ff0000"/>
<circle cx="1114.44" cy="555.6" r="13.05" fill="#ff0000"/>
<circle cx="1130.32" cy="569.99" r="13.05" fill="#ff0000"/>
<circle cx="1146.2" cy="582.79" r="13.05" fill="#ff0000"/>
<circle cx="1162.08" cy="594.19" r="13.05" fill="#ff0000"/>
<circle cx="1177.96" cy="604.33" r="13.05" fill="#ff0000"/>
<circle cx="1193.84" cy="613.35" r="13.05" fill="#ff0000"/>
<circle cx="1209.72" cy="621.38" r="13.05" fill="#ff0000"/>
<circle cx="1225.6" cy="628.53" r="13.05" fill="#ff0000"/>
<circle cx="1241.48" cy="634.89" r="13.05" fill="#ff0000"/>
<circle cx="1257.36" cy="640.55" r="13.05" fill="#ff0000"/>
<circle cx="1273.24" cy="645.59" r="13.05" fill="#ff0000"/>
<circle cx="1289.12" cy="650.07" r="13.05" fill="#ff0000"/>
<circle cx="1305" cy="654.06" r="13.05" fill="#ff0000"/>
<circle cx="1320.88" cy="657.61" r="13.05" fill="#ff0000"/>
<circle cx="1336.76" cy="660.77" r="13.05" fill="#ff0000"/>
<circle cx="1352.64" cy="663.58" r="13.05" fill="#ff0000"/>
<circle cx="1368.52" cy="666.08" r="13.05" fill="#ff0000"/>
<circle cx="1384.4" cy="668.31" r="13.05" fill="#ff0000"/>
<circle cx="1400.28" cy="670.29" r="13.05" fill="#ff0000"/>
<circle cx="1416.16" cy="671.83" r="13.05" fill="#ff0000"/>
<circle cx="1432.04" cy="673.08" r="13.05" fill="#ff0000"/>
<circle cx="1447.92" cy="674.17" r="13.05" fill="#ff0000"/>
<circle cx="1463.8" cy="675.1" r="13.05" fill="#ff0000"/>
<circle cx="1479.68" cy="675.87" r="13.05" fill="#ff0000"/>
<circle cx="1495.56" cy="676.56" r="13.05" fill="#ff0000"/>
<circle cx="1511.44" cy="677.14" r="13.05" fill="#ff0000"/>
<circle cx="1527.32" cy="677.62" r="13.05" fill="#ff0000"/>
<circle cx="1543.2" cy="678.04" r="13.05" fill="#ff0000"/>
<circle cx="1559.08" cy="678.36" r="13.05" fill="#ff0000"/>
<circle cx="1574.96" cy="678.61" r="13.05" fill="#ff0000"/>
<circle cx="1590.84" cy="678.79" r="13.05" fill="#ff0000"/>
<circle cx="1606.72" cy="678.97" r="13.05" fill="#ff0000"/>
<polyline points="987.4,273.5 1003.28,319.4 1019.16,360.3 1035.04,397.6 1050.92,430.3 1066.8,459.4 1082.68,484.8 1098.56,508.5 1114.44,528.5 1130.32,546.7 1146.2,563 1162.08,576.85 1177.96,589.14 1193.84,600.05 1209.72,609.73 1225.6,618.33 1241.48,625.96 1257.36,632.74 1273.24,638.75 1289.12,644.09 1305,648.83 1320.88,653.04 1336.76,656.77 1352.64,660.09 1368.52,663.03 1384.4,665.64 1400.28,667.96 1416.16,669.71 1432.04,671.68 1447.92,673.08 1463.8,674.44 1479.68,675.66 1495.56,676.65 1511.44,677.47 1527.32,678.15 1543.2,678.66 1559.08,679.11 1574.96,679.49 1590.84,679.83 1606.72,680.07" fill="none" stroke="#00ff00" stroke-width="1.6" stroke-linecap="round" stroke-linejoin="round" />
<polygon points="987.4,255.37 971.7,282.56 1003.1,282.56" fill="#00ff00"/>
<polygon points="1003.28,301.27 987.58,328.46 1018.98,328.46" fill="#00ff00"/>
<polygon points="1019.16,342.17 1003.46,369.36 1034.86,369.36" fill="#00ff00"/>
<polygon points="1035.04,379.47 1019.34,406.66 1050.74,406.66" fill="#00ff00"/>
<polygon points="1050.92,412.17 1035.22,439.36 1066.62,439.36" fill="#00ff00"/>
<polygon points="1066.8,441.27 1051.1,468.46 1082.5,468.46" fill="#00ff00"/>
<polygon points="1082.68,466.67 1066.98,493.86 1098.38,493.86" fill="#00ff00"/>
<polygon points="1098.56,490.37 1082.86,517.56 1114.26,517.56" fill="#00ff00"/>
<polygon points="1114.44,510.37 1098.74,537.56 1130.14,537.56" fill="#00ff00"/>
<polygon points="1130.32,528.57 1114.62,555.76 1146.02,555.76" fill="#00ff00"/>
<polygon points="1146.2,544.87 1130.5,572.06 1161.9,572.06" fill="#00ff00"/>
<polygon points="1162.08,558.72 1146.38,585.91 1177.78,585.91" fill="#00ff00"/>
<polygon points="1177.96,571.01 1162.26,598.2 1193.66,598.2" fill="#00ff00"/>
<polygon points="1193.84,581.92 1178.14,609.11 1209.54,609.11" fill="#00ff00"/>
<polygon points="1209.72,591.6 1194.02,618.8 1225.42,618.8" fill="#00ff00"/>
<polygon points="1225.6,600.2 1209.9,627.39 1241.3,627.39" fill="#00ff00"/>
<polygon points="1241.48,607.83 1225.78,635.03 1257.18,635.03" fill="#00ff00"/>
<polygon points="1257.36,614.61 1241.66,641.8 1273.06,641.8" fill="#00ff00"/>
<polygon points="1273.24,620.62 1257.54,647.82 1288.94,647.82" fill="#00ff00"/>
<polygon points="1289.12,625.96 1273.42,653.15 1304.82,653.15" fill="#00ff00"/>
<polygon points="1305,630.7 1289.3,657.89 1320.7,657.89" fill="#00ff00"/>
<polygon points="1320.88,634.91 1305.18,662.1 1336.58,662.1" fill="#00ff00"/>
<polygon points="1336.76,638.64 1321.06,665.84 1352.46,665.84" fill="#00ff00"/>
<polygon points="1352.64,641.96 1336.94,669.15 1368.34,669.15" fill="#00ff00"/>
<polygon points="1368.52,644.9 1352.82,672.1 1384.22,672.1" fill="#00ff00"/>
<polygon points="1384.4,647.52 1368.7,674.71 1400.1,674.71" fill="#00ff00"/>
<polygon points="1400.28,649.83 1384.58,677.03 1415.98,677.03" fill="#00ff00"/>
<polygon points="1416.16,651.59 1400.46,678.78 1431.86,678.78" fill="#00ff00"/>
<polygon points="1432.04,653.56 1416.34,680.75 1447.74,680.75" fill="#00ff00"/>
<polygon points="1447.92,654.96 1432.22,682.15 1463.62,682.15" fill="#00ff00"/>
<polygon points="1463.8,656.31 1448.1,683.51 1479.5,683.51" fill="#00ff00"/>
<polygon points="1479.68,657.53 1463.98,684.72 1495.38,684.72" fill="#00ff00"/>
<polygon points="1495.56,658.52 1479.86,685.71 1511.26,685.71" fill="#00ff00"/>
<polygon points="1511.44,659.34 1495.74,686.53 1527.14,686.53" fill="#00ff00"/>
<polygon points="1527.32,660.03 1511.62,687.22 1543.02,687.22" fill="#00ff00"/>
<polygon points="1543.2,660.53 1527.5,687.72 1558.9,687.72" fill="#00ff00"/>
<polygon points="1559.08,660.98 1543.38,688.17 1574.78,688.17" fill="#00ff00"/>
<polygon points="1574.96,661.36 1559.26,688.56 1590.66,688.56" fill="#00ff00"/>
<polygon points="1590.84,661.7 1575.14,688.9 1606.54,688.9" fill="#00ff00"/>
<polygon points="1606.72,661.94 1591.02,689.13 1622.42,689.13" fill="#00ff00"/>
<polyline points="987.4,59.4 1003.28,128.3 1019.16,190.5 1035.04,245.6 1050.92,294.9 1066.8,338.2 1082.68,377.6 1098.56,412 1114.44,442.5 1130.32,469.8 1146.2,494.4 1162.08,515.9 1177.96,535.7 1193.84,552.6 1209.72,567.2 1225.6,581 1241.48,592.8 1257.36,603.7 1273.24,612.5 1289.12,621.2 1305,628.5 1320.88,635 1336.76,640.8 1352.64,645.5 1368.52,650.3 1384.4,653.9 1400.28,657.6 1416.16,660.5 1432.04,663.4 1447.92,665.6 1463.8,667.5 1479.68,669.2 1495.56,670.7 1511.44,672.2 1527.32,673.3 1543.2,674.3 1559.08,675.1 1574.96,675.8 1590.84,676.2 1606.72,676.5" fill="none" stroke="#0000ff" stroke-width="1.8" stroke-linecap="round" stroke-linejoin="round" />
<polygon points="987.4,77.53 971.7,50.34 1003.1,50.34" fill="#0000ff"/>
<polygon points="1003.28,146.43 987.58,119.24 1018.98,119.24" fill="#0000ff"/>
<polygon points="1019.16,208.63 1003.46,181.44 1034.86,181.44" fill="#0000ff"/>
<polygon points="1035.04,263.73 1019.34,236.54 1050.74,236.54" fill="#0000ff"/>
<polygon points="1050.92,313.03 1035.22,285.84 1066.62,285.84" fill="#0000ff"/>
<polygon points="1066.8,356.33 1051.1,329.14 1082.5,329.14" fill="#0000ff"/>
<polygon points="1082.68,395.73 1066.98,368.54 1098.38,368.54" fill="#0000ff"/>
<polygon points="1098.56,430.13 1082.86,402.94 1114.26,402.94" fill="#0000ff"/>
<polygon points="1114.44,460.63 1098.74,433.44 1130.14,433.44" fill="#0000ff"/>
<polygon points="1130.32,487.93 1114.62,460.74 1146.02,460.74" fill="#0000ff"/>
<polygon points="1146.2,512.53 1130.5,485.34 1161.9,485.34" fill="#0000ff"/>
<polygon points="1162.08,534.03 1146.38,506.84 1177.78,506.84" fill="#0000ff"/>
<polygon points="1177.96,553.83 1162.26,526.64 1193.66,526.64" fill="#0000ff"/>
<polygon points="1193.84,570.73 1178.14,543.54 1209.54,543.54" fill="#0000ff"/>
<polygon points="1209.72,585.33 1194.02,558.14 1225.42,558.14" fill="#0000ff"/>
<polygon points="1225.6,599.13 1209.9,571.94 1241.3,571.94" fill="#0000ff"/>
<polygon points="1241.48,610.93 1225.78,583.74 1257.18,583.74" fill="#0000ff"/>
<polygon points="1257.36,621.83 1241.66,594.64 1273.06,594.64" fill="#0000ff"/>
<polygon points="1273.24,630.63 1257.54,603.44 1288.94,603.44" fill="#0000ff"/>
<polygon points="1289.12,639.33 1273.42,612.14 1304.82,612.14" fill="#0000ff"/>
<polygon points="1305,646.63 1289.3,619.44 1320.7,619.44" fill="#0000ff"/>
<polygon points="1320.88,653.13 1305.18,625.94 1336.58,625.94" fill="#0000ff"/>
<polygon points="1336.76,658.93 1321.06,631.74 1352.46,631.74" fill="#0000ff"/>
<polygon points="1352.64,663.63 1336.94,636.44 1368.34,636.44" fill="#0000ff"/>
<polygon points="1368.52,668.43 1352.82,641.24 1384.22,641.24" fill="#0000ff"/>
<polygon points="1384.4,672.03 1368.7,644.84 1400.1,644.84" fill="#0000ff"/>
<polygon points="1400.28,675.73 1384.58,648.54 1415.98,648.54" fill="#0000ff"/>
<polygon points="1416.16,678.63 1400.46,651.44 1431.86,651.44" fill="#0000ff"/>
<polygon points="1432.04,681.53 1416.34,654.34 1447.74,654.34" fill="#0000ff"/>
<polygon points="1447.92,683.73 1432.22,656.54 1463.62,656.54" fill="#0000ff"/>
<polygon points="1463.8,685.63 1448.1,658.44 1479.5,658.44" fill="#0000ff"/>
<polygon points="1479.68,687.33 1463.98,660.14 1495.38,660.14" fill="#0000ff"/>
<polygon points="1495.56,688.83 1479.86,661.64 1511.26,661.64" fill="#0000ff"/>
<polygon points="1511.44,690.33 1495.74,663.14 1527.14,663.14" fill="#0000ff"/>
<polygon points="1527.32,691.43 1511.62,664.24 1543.02,664.24" fill="#0000ff"/>
<polygon points="1543.2,692.43 1527.5,665.24 1558.9,665.24" fill="#0000ff"/>
<polygon points="1559.08,693.23 1543.38,666.04 1574.78,666.04" fill="#0000ff"/>
<polygon points="1574.96,693.93 1559.26,666.74 1590.66,666.74" fill="#0000ff"/>
<polygon points="1590.84,694.33 1575.14,667.14 1606.54,667.14" fill="#0000ff"/>
<polygon points="1606.72,694.63 1591.02,667.44 1622.42,667.44" fill="#0000ff"/>
<polyline points="987.4,666.3 1083.01,669.8 1187.95,672.8 1305,676.4 1400.61,677.6 1496.21,679.2 1606.53,681" fill="none" stroke="#000000" stroke-width="1.6" stroke-linecap="butt" stroke-linejoin="round" />
<polyline points="987.4,665 1083.01,668.4 1187.95,671.3 1305,674.4 1400.61,675.8 1496.21,677.6 1606.53,679.5" fill="none" stroke="#ff0000" stroke-width="2" stroke-linecap="butt" stroke-linejoin="round" stroke-dasharray="7.3 6.9"/>
</g>
<rect x="1243.6" y="276.3" width="363.9" height="257" fill="#fff"/>
<clipPath id="clipI"><rect x="1243.6" y="276.3" width="363.9" height="257"/></clipPath>
<g clip-path="url(#clipI)">
<polyline points="1243.6,466.1 1270,476.3 1295.5,484.9 1321,490.9 1347,495.8 1373,500 1399.8,503.7 1428.9,506.7 1460,509.6 1500,512.8 1550,516 1607.5,519 1615,519.3" fill="none" stroke="#000000" stroke-width="7" stroke-linecap="round" stroke-linejoin="round" />
<circle cx="1253.4" cy="441.8" r="3.4" fill="#ff0000"/>
<circle cx="1290.6" cy="452.8" r="3.4" fill="#ff0000"/>
<circle cx="1328.8" cy="463.7" r="3.4" fill="#ff0000"/>
<circle cx="1367" cy="470.3" r="3.4" fill="#ff0000"/>
<circle cx="1405.5" cy="476.4" r="3.4" fill="#ff0000"/>
<circle cx="1443.6" cy="480.9" r="3.4" fill="#ff0000"/>
<circle cx="1482.4" cy="484.4" r="3.4" fill="#ff0000"/>
<circle cx="1521" cy="487.6" r="3.4" fill="#ff0000"/>
<circle cx="1559.5" cy="490.2" r="3.4" fill="#ff0000"/>
<circle cx="1598" cy="492.3" r="3.4" fill="#ff0000"/>
<polyline points="1243.6,403.73 1269.6,437.72 1295.6,459.76 1321.6,473.61 1347.6,484.47 1373.6,492.81 1399.6,497.54 1425.6,502.42 1451.6,505.72 1477.6,508.71 1503.6,511.07 1529.6,513.28 1555.6,515.16 1581.6,516.74 1607.6,518" fill="none" stroke="#000000" stroke-width="1" stroke-linecap="round" stroke-linejoin="round" />
<rect x="1235.7" y="395.83" width="15.8" height="15.8" fill="#000000"/>
<rect x="1261.7" y="429.82" width="15.8" height="15.8" fill="#000000"/>
<rect x="1287.7" y="451.86" width="15.8" height="15.8" fill="#000000"/>
<rect x="1313.7" y="465.71" width="15.8" height="15.8" fill="#000000"/>
<rect x="1339.7" y="476.57" width="15.8" height="15.8" fill="#000000"/>
<rect x="1365.7" y="484.91" width="15.8" height="15.8" fill="#000000"/>
<rect x="1391.7" y="489.64" width="15.8" height="15.8" fill="#000000"/>
<rect x="1417.7" y="494.52" width="15.8" height="15.8" fill="#000000"/>
<rect x="1443.7" y="497.82" width="15.8" height="15.8" fill="#000000"/>
<rect x="1469.7" y="500.81" width="15.8" height="15.8" fill="#000000"/>
<rect x="1495.7" y="503.17" width="15.8" height="15.8" fill="#000000"/>
<rect x="1521.7" y="505.38" width="15.8" height="15.8" fill="#000000"/>
<rect x="1547.7" y="507.26" width="15.8" height="15.8" fill="#000000"/>
<rect x="1573.7" y="508.84" width="15.8" height="15.8" fill="#000000"/>
<rect x="1599.7" y="510.1" width="15.8" height="15.8" fill="#000000"/>
<polyline points="1243.35,342.81 1256.01,367.37 1270.22,387.36 1286.16,404.67 1304.04,419.47 1324.1,431.74 1346.62,442.76 1371.88,451.89 1400.22,459.6 1432.02,466.21 1467.7,471.41 1507.73,475.34 1552.65,478.18 1603.05,481.01" fill="none" stroke="#ff0000" stroke-width="1" stroke-linecap="round" stroke-linejoin="round" />
<rect x="1235.45" y="334.91" width="15.8" height="15.8" fill="#ff0000"/>
<rect x="1248.11" y="359.47" width="15.8" height="15.8" fill="#ff0000"/>
<rect x="1262.32" y="379.46" width="15.8" height="15.8" fill="#ff0000"/>
<rect x="1278.26" y="396.77" width="15.8" height="15.8" fill="#ff0000"/>
<rect x="1296.14" y="411.57" width="15.8" height="15.8" fill="#ff0000"/>
<rect x="1316.2" y="423.84" width="15.8" height="15.8" fill="#ff0000"/>
<rect x="1338.72" y="434.86" width="15.8" height="15.8" fill="#ff0000"/>
<rect x="1363.98" y="443.99" width="15.8" height="15.8" fill="#ff0000"/>
<rect x="1392.32" y="451.7" width="15.8" height="15.8" fill="#ff0000"/>
<rect x="1424.12" y="458.31" width="15.8" height="15.8" fill="#ff0000"/>
<rect x="1459.8" y="463.51" width="15.8" height="15.8" fill="#ff0000"/>
<rect x="1499.83" y="467.44" width="15.8" height="15.8" fill="#ff0000"/>
<rect x="1544.75" y="470.28" width="15.8" height="15.8" fill="#ff0000"/>
<rect x="1595.15" y="473.11" width="15.8" height="15.8" fill="#ff0000"/>
<polyline points="1243.6,324.71 1269.6,383.11 1295.6,419.47 1321.6,445.44 1347.6,463.7 1373.6,476.92 1399.6,486.83 1425.6,493.6 1451.6,499.11 1477.6,503.99 1503.6,507.77 1529.6,511.07 1555.6,514.06 1581.6,516.27 1607.6,517.68" fill="none" stroke="#00ff00" stroke-width="1" stroke-linecap="round" stroke-linejoin="round" />
<rect x="1235.7" y="316.81" width="15.8" height="15.8" fill="#00ff00"/>
<rect x="1261.7" y="375.21" width="15.8" height="15.8" fill="#00ff00"/>
<rect x="1287.7" y="411.57" width="15.8" height="15.8" fill="#00ff00"/>
<rect x="1313.7" y="437.54" width="15.8" height="15.8" fill="#00ff00"/>
<rect x="1339.7" y="455.8" width="15.8" height="15.8" fill="#00ff00"/>
<rect x="1365.7" y="469.02" width="15.8" height="15.8" fill="#00ff00"/>
<rect x="1391.7" y="478.93" width="15.8" height="15.8" fill="#00ff00"/>
<rect x="1417.7" y="485.7" width="15.8" height="15.8" fill="#00ff00"/>
<rect x="1443.7" y="491.21" width="15.8" height="15.8" fill="#00ff00"/>
<rect x="1469.7" y="496.09" width="15.8" height="15.8" fill="#00ff00"/>
<rect x="1495.7" y="499.87" width="15.8" height="15.8" fill="#00ff00"/>
<rect x="1521.7" y="503.17" width="15.8" height="15.8" fill="#00ff00"/>
<rect x="1547.7" y="506.16" width="15.8" height="15.8" fill="#00ff00"/>
<rect x="1573.7" y="508.37" width="15.8" height="15.8" fill="#00ff00"/>
<rect x="1599.7" y="509.78" width="15.8" height="15.8" fill="#00ff00"/>
<polyline points="1270.22,235.78 1286.16,274.34 1304.04,304.41 1324.1,331.95 1346.62,355.56 1371.88,376.81 1400.22,393.49 1432.02,408.29 1467.7,419.47 1507.73,428.91 1552.65,436.46 1603.05,443.23" fill="none" stroke="#0000ff" stroke-width="1" stroke-linecap="round" stroke-linejoin="round" />
<rect x="1262.32" y="227.88" width="15.8" height="15.8" fill="#0000ff"/>
<rect x="1278.26" y="266.44" width="15.8" height="15.8" fill="#0000ff"/>
<rect x="1296.14" y="296.51" width="15.8" height="15.8" fill="#0000ff"/>
<rect x="1316.2" y="324.05" width="15.8" height="15.8" fill="#0000ff"/>
<rect x="1338.72" y="347.66" width="15.8" height="15.8" fill="#0000ff"/>
<rect x="1363.98" y="368.91" width="15.8" height="15.8" fill="#0000ff"/>
<rect x="1392.32" y="385.59" width="15.8" height="15.8" fill="#0000ff"/>
<rect x="1424.12" y="400.39" width="15.8" height="15.8" fill="#0000ff"/>
<rect x="1459.8" y="411.57" width="15.8" height="15.8" fill="#0000ff"/>
<rect x="1499.83" y="421.01" width="15.8" height="15.8" fill="#0000ff"/>
<rect x="1544.75" y="428.56" width="15.8" height="15.8" fill="#0000ff"/>
<rect x="1595.15" y="435.33" width="15.8" height="15.8" fill="#0000ff"/>
</g>
<rect x="1243.6" y="276.3" width="363.9" height="257" fill="none" stroke="#222" stroke-width="1"/>
<line x1="1243.5" y1="533.3" x2="1243.5" y2="535.9" stroke="#222" stroke-width="0.9" stroke-linecap="butt" />
<line x1="1243.5" y1="276.3" x2="1243.5" y2="278.9" stroke="#222" stroke-width="0.9" stroke-linecap="butt" />
<line x1="1295.5" y1="533.3" x2="1295.5" y2="534.9" stroke="#222" stroke-width="0.9" stroke-linecap="butt" />
<line x1="1295.5" y1="276.3" x2="1295.5" y2="277.9" stroke="#222" stroke-width="0.9" stroke-linecap="butt" />
<line x1="1347.5" y1="533.3" x2="1347.5" y2="535.9" stroke="#222" stroke-width="0.9" stroke-linecap="butt" />
<line x1="1347.5" y1="276.3" x2="1347.5" y2="278.9" stroke="#222" stroke-width="0.9" stroke-linecap="butt" />
<line x1="1399.5" y1="533.3" x2="1399.5" y2="534.9" stroke="#222" stroke-width="0.9" stroke-linecap="butt" />
<line x1="1399.5" y1="276.3" x2="1399.5" y2="277.9" stroke="#222" stroke-width="0.9" stroke-linecap="butt" />
<line x1="1451.5" y1="533.3" x2="1451.5" y2="535.9" stroke="#222" stroke-width="0.9" stroke-linecap="butt" />
<line x1="1451.5" y1="276.3" x2="1451.5" y2="278.9" stroke="#222" stroke-width="0.9" stroke-linecap="butt" />
<line x1="1503.5" y1="533.3" x2="1503.5" y2="534.9" stroke="#222" stroke-width="0.9" stroke-linecap="butt" />
<line x1="1503.5" y1="276.3" x2="1503.5" y2="277.9" stroke="#222" stroke-width="0.9" stroke-linecap="butt" />
<line x1="1555.5" y1="533.3" x2="1555.5" y2="535.9" stroke="#222" stroke-width="0.9" stroke-linecap="butt" />
<line x1="1555.5" y1="276.3" x2="1555.5" y2="278.9" stroke="#222" stroke-width="0.9" stroke-linecap="butt" />
<line x1="1607.5" y1="533.3" x2="1607.5" y2="534.9" stroke="#222" stroke-width="0.9" stroke-linecap="butt" />
<line x1="1607.5" y1="276.3" x2="1607.5" y2="277.9" stroke="#222" stroke-width="0.9" stroke-linecap="butt" />
<line x1="1242" y1="522.5" x2="1243.6" y2="522.5" stroke="#222" stroke-width="0.9" stroke-linecap="butt" />
<line x1="1605.9" y1="522.5" x2="1607.5" y2="522.5" stroke="#222" stroke-width="0.9" stroke-linecap="butt" />
<line x1="1242" y1="503.5" x2="1243.6" y2="503.5" stroke="#222" stroke-width="0.9" stroke-linecap="butt" />
<line x1="1605.9" y1="503.5" x2="1607.5" y2="503.5" stroke="#222" stroke-width="0.9" stroke-linecap="butt" />
<line x1="1242" y1="487.5" x2="1243.6" y2="487.5" stroke="#222" stroke-width="0.9" stroke-linecap="butt" />
<line x1="1605.9" y1="487.5" x2="1607.5" y2="487.5" stroke="#222" stroke-width="0.9" stroke-linecap="butt" />
<line x1="1242" y1="475.5" x2="1243.6" y2="475.5" stroke="#222" stroke-width="0.9" stroke-linecap="butt" />
<line x1="1605.9" y1="475.5" x2="1607.5" y2="475.5" stroke="#222" stroke-width="0.9" stroke-linecap="butt" />
<line x1="1242" y1="464.5" x2="1243.6" y2="464.5" stroke="#222" stroke-width="0.9" stroke-linecap="butt" />
<line x1="1605.9" y1="464.5" x2="1607.5" y2="464.5" stroke="#222" stroke-width="0.9" stroke-linecap="butt" />
<line x1="1242" y1="455.5" x2="1243.6" y2="455.5" stroke="#222" stroke-width="0.9" stroke-linecap="butt" />
<line x1="1605.9" y1="455.5" x2="1607.5" y2="455.5" stroke="#222" stroke-width="0.9" stroke-linecap="butt" />
<line x1="1242" y1="447.5" x2="1243.6" y2="447.5" stroke="#222" stroke-width="0.9" stroke-linecap="butt" />
<line x1="1605.9" y1="447.5" x2="1607.5" y2="447.5" stroke="#222" stroke-width="0.9" stroke-linecap="butt" />
<line x1="1241" y1="440.5" x2="1243.6" y2="440.5" stroke="#222" stroke-width="0.9" stroke-linecap="butt" />
<line x1="1604.9" y1="440.5" x2="1607.5" y2="440.5" stroke="#222" stroke-width="0.9" stroke-linecap="butt" />
<line x1="1242" y1="393.5" x2="1243.6" y2="393.5" stroke="#222" stroke-width="0.9" stroke-linecap="butt" />
<line x1="1605.9" y1="393.5" x2="1607.5" y2="393.5" stroke="#222" stroke-width="0.9" stroke-linecap="butt" />
<line x1="1242" y1="365.5" x2="1243.6" y2="365.5" stroke="#222" stroke-width="0.9" stroke-linecap="butt" />
<line x1="1605.9" y1="365.5" x2="1607.5" y2="365.5" stroke="#222" stroke-width="0.9" stroke-linecap="butt" />
<line x1="1242" y1="345.5" x2="1243.6" y2="345.5" stroke="#222" stroke-width="0.9" stroke-linecap="butt" />
<line x1="1605.9" y1="345.5" x2="1607.5" y2="345.5" stroke="#222" stroke-width="0.9" stroke-linecap="butt" />
<line x1="1242" y1="330.5" x2="1243.6" y2="330.5" stroke="#222" stroke-width="0.9" stroke-linecap="butt" />
<line x1="1605.9" y1="330.5" x2="1607.5" y2="330.5" stroke="#222" stroke-width="0.9" stroke-linecap="butt" />
<line x1="1242" y1="317.5" x2="1243.6" y2="317.5" stroke="#222" stroke-width="0.9" stroke-linecap="butt" />
<line x1="1605.9" y1="317.5" x2="1607.5" y2="317.5" stroke="#222" stroke-width="0.9" stroke-linecap="butt" />
<line x1="1242" y1="307.5" x2="1243.6" y2="307.5" stroke="#222" stroke-width="0.9" stroke-linecap="butt" />
<line x1="1605.9" y1="307.5" x2="1607.5" y2="307.5" stroke="#222" stroke-width="0.9" stroke-linecap="butt" />
<line x1="1242" y1="298.5" x2="1243.6" y2="298.5" stroke="#222" stroke-width="0.9" stroke-linecap="butt" />
<line x1="1605.9" y1="298.5" x2="1607.5" y2="298.5" stroke="#222" stroke-width="0.9" stroke-linecap="butt" />
<line x1="1242" y1="290.5" x2="1243.6" y2="290.5" stroke="#222" stroke-width="0.9" stroke-linecap="butt" />
<line x1="1605.9" y1="290.5" x2="1607.5" y2="290.5" stroke="#222" stroke-width="0.9" stroke-linecap="butt" />
<line x1="1241" y1="283.5" x2="1243.6" y2="283.5" stroke="#222" stroke-width="0.9" stroke-linecap="butt" />
<line x1="1604.9" y1="283.5" x2="1607.5" y2="283.5" stroke="#222" stroke-width="0.9" stroke-linecap="butt" />
<text x="1236.8" y="291.9" font-family='"Liberation Sans", Arial, sans-serif' font-size="31.6" text-anchor="end"  >100</text>
<text x="1236.8" y="450.1" font-family='"Liberation Sans", Arial, sans-serif' font-size="31.6" text-anchor="end"  >10</text>
<text x="1243.6" y="567.4" font-family='"Liberation Sans", Arial, sans-serif' font-size="32" text-anchor="middle"  >0.2</text>
<text x="1347.6" y="567.4" font-family='"Liberation Sans", Arial, sans-serif' font-size="32" text-anchor="middle"  >0.4</text>
<text x="1451.6" y="567.4" font-family='"Liberation Sans", Arial, sans-serif' font-size="32" text-anchor="middle"  >0.6</text>
<text x="1555.6" y="567.4" font-family='"Liberation Sans", Arial, sans-serif' font-size="32" text-anchor="middle"  >0.8</text>
<rect x="973.3" y="43.3" width="649.8" height="642.9" fill="none" stroke="#000" stroke-width="1.6"/>
<line x1="966.3" y1="686.5" x2="973.3" y2="686.5" stroke="#000000" stroke-width="1.2" stroke-linecap="butt" />
<line x1="966.3" y1="676.5" x2="973.3" y2="676.5" stroke="#000000" stroke-width="1.2" stroke-linecap="butt" />
<line x1="1616.1" y1="676.5" x2="1623.1" y2="676.5" stroke="#000000" stroke-width="1.2" stroke-linecap="butt" />
<line x1="969.4" y1="678.91" x2="973.3" y2="678.91" stroke="#111" stroke-width="1.5" stroke-linecap="butt" />
<line x1="1619.2" y1="678.91" x2="1623.1" y2="678.91" stroke="#111" stroke-width="1.5" stroke-linecap="butt" />
<line x1="966.3" y1="666.5" x2="973.3" y2="666.5" stroke="#000000" stroke-width="1.2" stroke-linecap="butt" />
<line x1="1616.1" y1="666.5" x2="1623.1" y2="666.5" stroke="#000000" stroke-width="1.2" stroke-linecap="butt" />
<line x1="969.4" y1="669.03" x2="973.3" y2="669.03" stroke="#111" stroke-width="1.5" stroke-linecap="butt" />
<line x1="1619.2" y1="669.03" x2="1623.1" y2="669.03" stroke="#111" stroke-width="1.5" stroke-linecap="butt" />
<line x1="966.3" y1="656.5" x2="973.3" y2="656.5" stroke="#000000" stroke-width="1.2" stroke-linecap="butt" />
<line x1="1616.1" y1="656.5" x2="1623.1" y2="656.5" stroke="#000000" stroke-width="1.2" stroke-linecap="butt" />
<line x1="969.4" y1="659.14" x2="973.3" y2="659.14" stroke="#111" stroke-width="1.5" stroke-linecap="butt" />
<line x1="1619.2" y1="659.14" x2="1623.1" y2="659.14" stroke="#111" stroke-width="1.5" stroke-linecap="butt" />
<line x1="966.3" y1="646.5" x2="973.3" y2="646.5" stroke="#000000" stroke-width="1.2" stroke-linecap="butt" />
<line x1="1616.1" y1="646.5" x2="1623.1" y2="646.5" stroke="#000000" stroke-width="1.2" stroke-linecap="butt" />
<line x1="969.4" y1="649.26" x2="973.3" y2="649.26" stroke="#111" stroke-width="1.5" stroke-linecap="butt" />
<line x1="1619.2" y1="649.26" x2="1623.1" y2="649.26" stroke="#111" stroke-width="1.5" stroke-linecap="butt" />
<line x1="966.3" y1="636.5" x2="973.3" y2="636.5" stroke="#000000" stroke-width="1.2" stroke-linecap="butt" />
<line x1="1616.1" y1="636.5" x2="1623.1" y2="636.5" stroke="#000000" stroke-width="1.2" stroke-linecap="butt" />
<line x1="969.4" y1="639.38" x2="973.3" y2="639.38" stroke="#111" stroke-width="1.5" stroke-linecap="butt" />
<line x1="1619.2" y1="639.38" x2="1623.1" y2="639.38" stroke="#111" stroke-width="1.5" stroke-linecap="butt" />
<line x1="966.3" y1="626.5" x2="973.3" y2="626.5" stroke="#000000" stroke-width="1.2" stroke-linecap="butt" />
<line x1="1616.1" y1="626.5" x2="1623.1" y2="626.5" stroke="#000000" stroke-width="1.2" stroke-linecap="butt" />
<line x1="969.4" y1="629.49" x2="973.3" y2="629.49" stroke="#111" stroke-width="1.5" stroke-linecap="butt" />
<line x1="1619.2" y1="629.49" x2="1623.1" y2="629.49" stroke="#111" stroke-width="1.5" stroke-linecap="butt" />
<line x1="966.3" y1="617.5" x2="973.3" y2="617.5" stroke="#000000" stroke-width="1.2" stroke-linecap="butt" />
<line x1="1616.1" y1="617.5" x2="1623.1" y2="617.5" stroke="#000000" stroke-width="1.2" stroke-linecap="butt" />
<line x1="969.4" y1="619.61" x2="973.3" y2="619.61" stroke="#111" stroke-width="1.5" stroke-linecap="butt" />
<line x1="1619.2" y1="619.61" x2="1623.1" y2="619.61" stroke="#111" stroke-width="1.5" stroke-linecap="butt" />
<line x1="966.3" y1="607.5" x2="973.3" y2="607.5" stroke="#000000" stroke-width="1.2" stroke-linecap="butt" />
<line x1="1616.1" y1="607.5" x2="1623.1" y2="607.5" stroke="#000000" stroke-width="1.2" stroke-linecap="butt" />
<line x1="969.4" y1="609.72" x2="973.3" y2="609.72" stroke="#111" stroke-width="1.5" stroke-linecap="butt" />
<line x1="1619.2" y1="609.72" x2="1623.1" y2="609.72" stroke="#111" stroke-width="1.5" stroke-linecap="butt" />
<line x1="966.3" y1="597.5" x2="973.3" y2="597.5" stroke="#000000" stroke-width="1.2" stroke-linecap="butt" />
<line x1="1616.1" y1="597.5" x2="1623.1" y2="597.5" stroke="#000000" stroke-width="1.2" stroke-linecap="butt" />
<line x1="969.4" y1="599.83" x2="973.3" y2="599.83" stroke="#111" stroke-width="1.5" stroke-linecap="butt" />
<line x1="1619.2" y1="599.83" x2="1623.1" y2="599.83" stroke="#111" stroke-width="1.5" stroke-linecap="butt" />
<line x1="966.3" y1="587.5" x2="973.3" y2="587.5" stroke="#000000" stroke-width="1.2" stroke-linecap="butt" />
<line x1="1616.1" y1="587.5" x2="1623.1" y2="587.5" stroke="#000000" stroke-width="1.2" stroke-linecap="butt" />
<line x1="969.4" y1="589.95" x2="973.3" y2="589.95" stroke="#111" stroke-width="1.5" stroke-linecap="butt" />
<line x1="1619.2" y1="589.95" x2="1623.1" y2="589.95" stroke="#111" stroke-width="1.5" stroke-linecap="butt" />
<line x1="966.3" y1="577.5" x2="973.3" y2="577.5" stroke="#000000" stroke-width="1.2" stroke-linecap="butt" />
<line x1="1616.1" y1="577.5" x2="1623.1" y2="577.5" stroke="#000000" stroke-width="1.2" stroke-linecap="butt" />
<line x1="969.4" y1="580.06" x2="973.3" y2="580.06" stroke="#111" stroke-width="1.5" stroke-linecap="butt" />
<line x1="1619.2" y1="580.06" x2="1623.1" y2="580.06" stroke="#111" stroke-width="1.5" stroke-linecap="butt" />
<line x1="966.3" y1="567.5" x2="973.3" y2="567.5" stroke="#000000" stroke-width="1.2" stroke-linecap="butt" />
<line x1="1616.1" y1="567.5" x2="1623.1" y2="567.5" stroke="#000000" stroke-width="1.2" stroke-linecap="butt" />
<line x1="969.4" y1="570.18" x2="973.3" y2="570.18" stroke="#111" stroke-width="1.5" stroke-linecap="butt" />
<line x1="1619.2" y1="570.18" x2="1623.1" y2="570.18" stroke="#111" stroke-width="1.5" stroke-linecap="butt" />
<line x1="966.3" y1="557.5" x2="973.3" y2="557.5" stroke="#000000" stroke-width="1.2" stroke-linecap="butt" />
<line x1="1616.1" y1="557.5" x2="1623.1" y2="557.5" stroke="#000000" stroke-width="1.2" stroke-linecap="butt" />
<line x1="969.4" y1="560.29" x2="973.3" y2="560.29" stroke="#111" stroke-width="1.5" stroke-linecap="butt" />
<line x1="1619.2" y1="560.29" x2="1623.1" y2="560.29" stroke="#111" stroke-width="1.5" stroke-linecap="butt" />
<line x1="966.3" y1="547.5" x2="973.3" y2="547.5" stroke="#000000" stroke-width="1.2" stroke-linecap="butt" />
<line x1="1616.1" y1="547.5" x2="1623.1" y2="547.5" stroke="#000000" stroke-width="1.2" stroke-linecap="butt" />
<line x1="969.4" y1="550.41" x2="973.3" y2="550.41" stroke="#111" stroke-width="1.5" stroke-linecap="butt" />
<line x1="1619.2" y1="550.41" x2="1623.1" y2="550.41" stroke="#111" stroke-width="1.5" stroke-linecap="butt" />
<line x1="966.3" y1="538.5" x2="973.3" y2="538.5" stroke="#000000" stroke-width="1.2" stroke-linecap="butt" />
<line x1="1616.1" y1="538.5" x2="1623.1" y2="538.5" stroke="#000000" stroke-width="1.2" stroke-linecap="butt" />
<line x1="969.4" y1="540.52" x2="973.3" y2="540.52" stroke="#111" stroke-width="1.5" stroke-linecap="butt" />
<line x1="1619.2" y1="540.52" x2="1623.1" y2="540.52" stroke="#111" stroke-width="1.5" stroke-linecap="butt" />
<line x1="966.3" y1="528.5" x2="973.3" y2="528.5" stroke="#000000" stroke-width="1.2" stroke-linecap="butt" />
<line x1="1616.1" y1="528.5" x2="1623.1" y2="528.5" stroke="#000000" stroke-width="1.2" stroke-linecap="butt" />
<line x1="969.4" y1="530.64" x2="973.3" y2="530.64" stroke="#111" stroke-width="1.5" stroke-linecap="butt" />
<line x1="1619.2" y1="530.64" x2="1623.1" y2="530.64" stroke="#111" stroke-width="1.5" stroke-linecap="butt" />
<line x1="966.3" y1="518.5" x2="973.3" y2="518.5" stroke="#000000" stroke-width="1.2" stroke-linecap="butt" />
<line x1="1616.1" y1="518.5" x2="1623.1" y2="518.5" stroke="#000000" stroke-width="1.2" stroke-linecap="butt" />
<line x1="969.4" y1="520.75" x2="973.3" y2="520.75" stroke="#111" stroke-width="1.5" stroke-linecap="butt" />
<line x1="1619.2" y1="520.75" x2="1623.1" y2="520.75" stroke="#111" stroke-width="1.5" stroke-linecap="butt" />
<line x1="966.3" y1="508.5" x2="973.3" y2="508.5" stroke="#000000" stroke-width="1.2" stroke-linecap="butt" />
<line x1="1616.1" y1="508.5" x2="1623.1" y2="508.5" stroke="#000000" stroke-width="1.2" stroke-linecap="butt" />
<line x1="969.4" y1="510.87" x2="973.3" y2="510.87" stroke="#111" stroke-width="1.5" stroke-linecap="butt" />
<line x1="1619.2" y1="510.87" x2="1623.1" y2="510.87" stroke="#111" stroke-width="1.5" stroke-linecap="butt" />
<line x1="966.3" y1="498.5" x2="973.3" y2="498.5" stroke="#000000" stroke-width="1.2" stroke-linecap="butt" />
<line x1="1616.1" y1="498.5" x2="1623.1" y2="498.5" stroke="#000000" stroke-width="1.2" stroke-linecap="butt" />
<line x1="969.4" y1="500.98" x2="973.3" y2="500.98" stroke="#111" stroke-width="1.5" stroke-linecap="butt" />
<line x1="1619.2" y1="500.98" x2="1623.1" y2="500.98" stroke="#111" stroke-width="1.5" stroke-linecap="butt" />
<line x1="966.3" y1="488.5" x2="973.3" y2="488.5" stroke="#000000" stroke-width="1.2" stroke-linecap="butt" />
<line x1="1616.1" y1="488.5" x2="1623.1" y2="488.5" stroke="#000000" stroke-width="1.2" stroke-linecap="butt" />
<line x1="969.4" y1="491.1" x2="973.3" y2="491.1" stroke="#111" stroke-width="1.5" stroke-linecap="butt" />
<line x1="1619.2" y1="491.1" x2="1623.1" y2="491.1" stroke="#111" stroke-width="1.5" stroke-linecap="butt" />
<line x1="966.3" y1="478.5" x2="973.3" y2="478.5" stroke="#000000" stroke-width="1.2" stroke-linecap="butt" />
<line x1="1616.1" y1="478.5" x2="1623.1" y2="478.5" stroke="#000000" stroke-width="1.2" stroke-linecap="butt" />
<line x1="969.4" y1="481.21" x2="973.3" y2="481.21" stroke="#111" stroke-width="1.5" stroke-linecap="butt" />
<line x1="1619.2" y1="481.21" x2="1623.1" y2="481.21" stroke="#111" stroke-width="1.5" stroke-linecap="butt" />
<line x1="966.3" y1="468.5" x2="973.3" y2="468.5" stroke="#000000" stroke-width="1.2" stroke-linecap="butt" />
<line x1="1616.1" y1="468.5" x2="1623.1" y2="468.5" stroke="#000000" stroke-width="1.2" stroke-linecap="butt" />
<line x1="969.4" y1="471.33" x2="973.3" y2="471.33" stroke="#111" stroke-width="1.5" stroke-linecap="butt" />
<line x1="1619.2" y1="471.33" x2="1623.1" y2="471.33" stroke="#111" stroke-width="1.5" stroke-linecap="butt" />
<line x1="966.3" y1="458.5" x2="973.3" y2="458.5" stroke="#000000" stroke-width="1.2" stroke-linecap="butt" />
<line x1="1616.1" y1="458.5" x2="1623.1" y2="458.5" stroke="#000000" stroke-width="1.2" stroke-linecap="butt" />
<line x1="969.4" y1="461.44" x2="973.3" y2="461.44" stroke="#111" stroke-width="1.5" stroke-linecap="butt" />
<line x1="1619.2" y1="461.44" x2="1623.1" y2="461.44" stroke="#111" stroke-width="1.5" stroke-linecap="butt" />
<line x1="966.3" y1="449.5" x2="973.3" y2="449.5" stroke="#000000" stroke-width="1.2" stroke-linecap="butt" />
<line x1="1616.1" y1="449.5" x2="1623.1" y2="449.5" stroke="#000000" stroke-width="1.2" stroke-linecap="butt" />
<line x1="969.4" y1="451.56" x2="973.3" y2="451.56" stroke="#111" stroke-width="1.5" stroke-linecap="butt" />
<line x1="1619.2" y1="451.56" x2="1623.1" y2="451.56" stroke="#111" stroke-width="1.5" stroke-linecap="butt" />
<line x1="966.3" y1="439.5" x2="973.3" y2="439.5" stroke="#000000" stroke-width="1.2" stroke-linecap="butt" />
<line x1="1616.1" y1="439.5" x2="1623.1" y2="439.5" stroke="#000000" stroke-width="1.2" stroke-linecap="butt" />
<line x1="969.4" y1="441.67" x2="973.3" y2="441.67" stroke="#111" stroke-width="1.5" stroke-linecap="butt" />
<line x1="1619.2" y1="441.67" x2="1623.1" y2="441.67" stroke="#111" stroke-width="1.5" stroke-linecap="butt" />
<line x1="966.3" y1="429.5" x2="973.3" y2="429.5" stroke="#000000" stroke-width="1.2" stroke-linecap="butt" />
<line x1="1616.1" y1="429.5" x2="1623.1" y2="429.5" stroke="#000000" stroke-width="1.2" stroke-linecap="butt" />
<line x1="969.4" y1="431.79" x2="973.3" y2="431.79" stroke="#111" stroke-width="1.5" stroke-linecap="butt" />
<line x1="1619.2" y1="431.79" x2="1623.1" y2="431.79" stroke="#111" stroke-width="1.5" stroke-linecap="butt" />
<line x1="966.3" y1="419.5" x2="973.3" y2="419.5" stroke="#000000" stroke-width="1.2" stroke-linecap="butt" />
<line x1="1616.1" y1="419.5" x2="1623.1" y2="419.5" stroke="#000000" stroke-width="1.2" stroke-linecap="butt" />
<line x1="969.4" y1="421.9" x2="973.3" y2="421.9" stroke="#111" stroke-width="1.5" stroke-linecap="butt" />
<line x1="1619.2" y1="421.9" x2="1623.1" y2="421.9" stroke="#111" stroke-width="1.5" stroke-linecap="butt" />
<line x1="966.3" y1="409.5" x2="973.3" y2="409.5" stroke="#000000" stroke-width="1.2" stroke-linecap="butt" />
<line x1="1616.1" y1="409.5" x2="1623.1" y2="409.5" stroke="#000000" stroke-width="1.2" stroke-linecap="butt" />
<line x1="969.4" y1="412.02" x2="973.3" y2="412.02" stroke="#111" stroke-width="1.5" stroke-linecap="butt" />
<line x1="1619.2" y1="412.02" x2="1623.1" y2="412.02" stroke="#111" stroke-width="1.5" stroke-linecap="butt" />
<line x1="966.3" y1="399.5" x2="973.3" y2="399.5" stroke="#000000" stroke-width="1.2" stroke-linecap="butt" />
<line x1="1616.1" y1="399.5" x2="1623.1" y2="399.5" stroke="#000000" stroke-width="1.2" stroke-linecap="butt" />
<line x1="969.4" y1="402.13" x2="973.3" y2="402.13" stroke="#111" stroke-width="1.5" stroke-linecap="butt" />
<line x1="1619.2" y1="402.13" x2="1623.1" y2="402.13" stroke="#111" stroke-width="1.5" stroke-linecap="butt" />
<line x1="966.3" y1="389.5" x2="973.3" y2="389.5" stroke="#000000" stroke-width="1.2" stroke-linecap="butt" />
<line x1="1616.1" y1="389.5" x2="1623.1" y2="389.5" stroke="#000000" stroke-width="1.2" stroke-linecap="butt" />
<line x1="969.4" y1="392.25" x2="973.3" y2="392.25" stroke="#111" stroke-width="1.5" stroke-linecap="butt" />
<line x1="1619.2" y1="392.25" x2="1623.1" y2="392.25" stroke="#111" stroke-width="1.5" stroke-linecap="butt" />
<line x1="966.3" y1="379.5" x2="973.3" y2="379.5" stroke="#000000" stroke-width="1.2" stroke-linecap="butt" />
<line x1="1616.1" y1="379.5" x2="1623.1" y2="379.5" stroke="#000000" stroke-width="1.2" stroke-linecap="butt" />
<line x1="969.4" y1="382.36" x2="973.3" y2="382.36" stroke="#111" stroke-width="1.5" stroke-linecap="butt" />
<line x1="1619.2" y1="382.36" x2="1623.1" y2="382.36" stroke="#111" stroke-width="1.5" stroke-linecap="butt" />
<line x1="966.3" y1="369.5" x2="973.3" y2="369.5" stroke="#000000" stroke-width="1.2" stroke-linecap="butt" />
<line x1="1616.1" y1="369.5" x2="1623.1" y2="369.5" stroke="#000000" stroke-width="1.2" stroke-linecap="butt" />
<line x1="969.4" y1="372.48" x2="973.3" y2="372.48" stroke="#111" stroke-width="1.5" stroke-linecap="butt" />
<line x1="1619.2" y1="372.48" x2="1623.1" y2="372.48" stroke="#111" stroke-width="1.5" stroke-linecap="butt" />
<line x1="966.3" y1="360.5" x2="973.3" y2="360.5" stroke="#000000" stroke-width="1.2" stroke-linecap="butt" />
<line x1="1616.1" y1="360.5" x2="1623.1" y2="360.5" stroke="#000000" stroke-width="1.2" stroke-linecap="butt" />
<line x1="969.4" y1="362.59" x2="973.3" y2="362.59" stroke="#111" stroke-width="1.5" stroke-linecap="butt" />
<line x1="1619.2" y1="362.59" x2="1623.1" y2="362.59" stroke="#111" stroke-width="1.5" stroke-linecap="butt" />
<line x1="966.3" y1="350.5" x2="973.3" y2="350.5" stroke="#000000" stroke-width="1.2" stroke-linecap="butt" />
<line x1="1616.1" y1="350.5" x2="1623.1" y2="350.5" stroke="#000000" stroke-width="1.2" stroke-linecap="butt" />
<line x1="969.4" y1="352.71" x2="973.3" y2="352.71" stroke="#111" stroke-width="1.5" stroke-linecap="butt" />
<line x1="1619.2" y1="352.71" x2="1623.1" y2="352.71" stroke="#111" stroke-width="1.5" stroke-linecap="butt" />
<line x1="966.3" y1="340.5" x2="973.3" y2="340.5" stroke="#000000" stroke-width="1.2" stroke-linecap="butt" />
<line x1="1616.1" y1="340.5" x2="1623.1" y2="340.5" stroke="#000000" stroke-width="1.2" stroke-linecap="butt" />
<line x1="969.4" y1="342.82" x2="973.3" y2="342.82" stroke="#111" stroke-width="1.5" stroke-linecap="butt" />
<line x1="1619.2" y1="342.82" x2="1623.1" y2="342.82" stroke="#111" stroke-width="1.5" stroke-linecap="butt" />
<line x1="966.3" y1="330.5" x2="973.3" y2="330.5" stroke="#000000" stroke-width="1.2" stroke-linecap="butt" />
<line x1="1616.1" y1="330.5" x2="1623.1" y2="330.5" stroke="#000000" stroke-width="1.2" stroke-linecap="butt" />
<line x1="969.4" y1="332.94" x2="973.3" y2="332.94" stroke="#111" stroke-width="1.5" stroke-linecap="butt" />
<line x1="1619.2" y1="332.94" x2="1623.1" y2="332.94" stroke="#111" stroke-width="1.5" stroke-linecap="butt" />
<line x1="966.3" y1="320.5" x2="973.3" y2="320.5" stroke="#000000" stroke-width="1.2" stroke-linecap="butt" />
<line x1="1616.1" y1="320.5" x2="1623.1" y2="320.5" stroke="#000000" stroke-width="1.2" stroke-linecap="butt" />
<line x1="969.4" y1="323.05" x2="973.3" y2="323.05" stroke="#111" stroke-width="1.5" stroke-linecap="butt" />
<line x1="1619.2" y1="323.05" x2="1623.1" y2="323.05" stroke="#111" stroke-width="1.5" stroke-linecap="butt" />
<line x1="966.3" y1="310.5" x2="973.3" y2="310.5" stroke="#000000" stroke-width="1.2" stroke-linecap="butt" />
<line x1="1616.1" y1="310.5" x2="1623.1" y2="310.5" stroke="#000000" stroke-width="1.2" stroke-linecap="butt" />
<line x1="969.4" y1="313.17" x2="973.3" y2="313.17" stroke="#111" stroke-width="1.5" stroke-linecap="butt" />
<line x1="1619.2" y1="313.17" x2="1623.1" y2="313.17" stroke="#111" stroke-width="1.5" stroke-linecap="butt" />
<line x1="966.3" y1="300.5" x2="973.3" y2="300.5" stroke="#000000" stroke-width="1.2" stroke-linecap="butt" />
<line x1="1616.1" y1="300.5" x2="1623.1" y2="300.5" stroke="#000000" stroke-width="1.2" stroke-linecap="butt" />
<line x1="969.4" y1="303.28" x2="973.3" y2="303.28" stroke="#111" stroke-width="1.5" stroke-linecap="butt" />
<line x1="1619.2" y1="303.28" x2="1623.1" y2="303.28" stroke="#111" stroke-width="1.5" stroke-linecap="butt" />
<line x1="966.3" y1="290.5" x2="973.3" y2="290.5" stroke="#000000" stroke-width="1.2" stroke-linecap="butt" />
<line x1="1616.1" y1="290.5" x2="1623.1" y2="290.5" stroke="#000000" stroke-width="1.2" stroke-linecap="butt" />
<line x1="969.4" y1="293.4" x2="973.3" y2="293.4" stroke="#111" stroke-width="1.5" stroke-linecap="butt" />
<line x1="1619.2" y1="293.4" x2="1623.1" y2="293.4" stroke="#111" stroke-width="1.5" stroke-linecap="butt" />
<line x1="966.3" y1="281.5" x2="973.3" y2="281.5" stroke="#000000" stroke-width="1.2" stroke-linecap="butt" />
<line x1="1616.1" y1="281.5" x2="1623.1" y2="281.5" stroke="#000000" stroke-width="1.2" stroke-linecap="butt" />
<line x1="969.4" y1="283.51" x2="973.3" y2="283.51" stroke="#111" stroke-width="1.5" stroke-linecap="butt" />
<line x1="1619.2" y1="283.51" x2="1623.1" y2="283.51" stroke="#111" stroke-width="1.5" stroke-linecap="butt" />
<line x1="966.3" y1="271.5" x2="973.3" y2="271.5" stroke="#000000" stroke-width="1.2" stroke-linecap="butt" />
<line x1="1616.1" y1="271.5" x2="1623.1" y2="271.5" stroke="#000000" stroke-width="1.2" stroke-linecap="butt" />
<line x1="969.4" y1="273.63" x2="973.3" y2="273.63" stroke="#111" stroke-width="1.5" stroke-linecap="butt" />
<line x1="1619.2" y1="273.63" x2="1623.1" y2="273.63" stroke="#111" stroke-width="1.5" stroke-linecap="butt" />
<line x1="966.3" y1="261.5" x2="973.3" y2="261.5" stroke="#000000" stroke-width="1.2" stroke-linecap="butt" />
<line x1="1616.1" y1="261.5" x2="1623.1" y2="261.5" stroke="#000000" stroke-width="1.2" stroke-linecap="butt" />
<line x1="969.4" y1="263.74" x2="973.3" y2="263.74" stroke="#111" stroke-width="1.5" stroke-linecap="butt" />
<line x1="1619.2" y1="263.74" x2="1623.1" y2="263.74" stroke="#111" stroke-width="1.5" stroke-linecap="butt" />
<line x1="966.3" y1="251.5" x2="973.3" y2="251.5" stroke="#000000" stroke-width="1.2" stroke-linecap="butt" />
<line x1="1616.1" y1="251.5" x2="1623.1" y2="251.5" stroke="#000000" stroke-width="1.2" stroke-linecap="butt" />
<line x1="969.4" y1="253.86" x2="973.3" y2="253.86" stroke="#111" stroke-width="1.5" stroke-linecap="butt" />
<line x1="1619.2" y1="253.86" x2="1623.1" y2="253.86" stroke="#111" stroke-width="1.5" stroke-linecap="butt" />
<line x1="966.3" y1="241.5" x2="973.3" y2="241.5" stroke="#000000" stroke-width="1.2" stroke-linecap="butt" />
<line x1="1616.1" y1="241.5" x2="1623.1" y2="241.5" stroke="#000000" stroke-width="1.2" stroke-linecap="butt" />
<line x1="969.4" y1="243.97" x2="973.3" y2="243.97" stroke="#111" stroke-width="1.5" stroke-linecap="butt" />
<line x1="1619.2" y1="243.97" x2="1623.1" y2="243.97" stroke="#111" stroke-width="1.5" stroke-linecap="butt" />
<line x1="966.3" y1="231.5" x2="973.3" y2="231.5" stroke="#000000" stroke-width="1.2" stroke-linecap="butt" />
<line x1="1616.1" y1="231.5" x2="1623.1" y2="231.5" stroke="#000000" stroke-width="1.2" stroke-linecap="butt" />
<line x1="969.4" y1="234.09" x2="973.3" y2="234.09" stroke="#111" stroke-width="1.5" stroke-linecap="butt" />
<line x1="1619.2" y1="234.09" x2="1623.1" y2="234.09" stroke="#111" stroke-width="1.5" stroke-linecap="butt" />
<line x1="966.3" y1="221.5" x2="973.3" y2="221.5" stroke="#000000" stroke-width="1.2" stroke-linecap="butt" />
<line x1="1616.1" y1="221.5" x2="1623.1" y2="221.5" stroke="#000000" stroke-width="1.2" stroke-linecap="butt" />
<line x1="969.4" y1="224.2" x2="973.3" y2="224.2" stroke="#111" stroke-width="1.5" stroke-linecap="butt" />
<line x1="1619.2" y1="224.2" x2="1623.1" y2="224.2" stroke="#111" stroke-width="1.5" stroke-linecap="butt" />
<line x1="966.3" y1="211.5" x2="973.3" y2="211.5" stroke="#000000" stroke-width="1.2" stroke-linecap="butt" />
<line x1="1616.1" y1="211.5" x2="1623.1" y2="211.5" stroke="#000000" stroke-width="1.2" stroke-linecap="butt" />
<line x1="969.4" y1="214.32" x2="973.3" y2="214.32" stroke="#111" stroke-width="1.5" stroke-linecap="butt" />
<line x1="1619.2" y1="214.32" x2="1623.1" y2="214.32" stroke="#111" stroke-width="1.5" stroke-linecap="butt" />
<line x1="966.3" y1="201.5" x2="973.3" y2="201.5" stroke="#000000" stroke-width="1.2" stroke-linecap="butt" />
<line x1="1616.1" y1="201.5" x2="1623.1" y2="201.5" stroke="#000000" stroke-width="1.2" stroke-linecap="butt" />
<line x1="969.4" y1="204.43" x2="973.3" y2="204.43" stroke="#111" stroke-width="1.5" stroke-linecap="butt" />
<line x1="1619.2" y1="204.43" x2="1623.1" y2="204.43" stroke="#111" stroke-width="1.5" stroke-linecap="butt" />
<line x1="966.3" y1="192.5" x2="973.3" y2="192.5" stroke="#000000" stroke-width="1.2" stroke-linecap="butt" />
<line x1="1616.1" y1="192.5" x2="1623.1" y2="192.5" stroke="#000000" stroke-width="1.2" stroke-linecap="butt" />
<line x1="969.4" y1="194.55" x2="973.3" y2="194.55" stroke="#111" stroke-width="1.5" stroke-linecap="butt" />
<line x1="1619.2" y1="194.55" x2="1623.1" y2="194.55" stroke="#111" stroke-width="1.5" stroke-linecap="butt" />
<line x1="966.3" y1="182.5" x2="973.3" y2="182.5" stroke="#000000" stroke-width="1.2" stroke-linecap="butt" />
<line x1="1616.1" y1="182.5" x2="1623.1" y2="182.5" stroke="#000000" stroke-width="1.2" stroke-linecap="butt" />
<line x1="969.4" y1="184.66" x2="973.3" y2="184.66" stroke="#111" stroke-width="1.5" stroke-linecap="butt" />
<line x1="1619.2" y1="184.66" x2="1623.1" y2="184.66" stroke="#111" stroke-width="1.5" stroke-linecap="butt" />
<line x1="966.3" y1="172.5" x2="973.3" y2="172.5" stroke="#000000" stroke-width="1.2" stroke-linecap="butt" />
<line x1="1616.1" y1="172.5" x2="1623.1" y2="172.5" stroke="#000000" stroke-width="1.2" stroke-linecap="butt" />
<line x1="969.4" y1="174.78" x2="973.3" y2="174.78" stroke="#111" stroke-width="1.5" stroke-linecap="butt" />
<line x1="1619.2" y1="174.78" x2="1623.1" y2="174.78" stroke="#111" stroke-width="1.5" stroke-linecap="butt" />
<line x1="966.3" y1="162.5" x2="973.3" y2="162.5" stroke="#000000" stroke-width="1.2" stroke-linecap="butt" />
<line x1="1616.1" y1="162.5" x2="1623.1" y2="162.5" stroke="#000000" stroke-width="1.2" stroke-linecap="butt" />
<line x1="969.4" y1="164.89" x2="973.3" y2="164.89" stroke="#111" stroke-width="1.5" stroke-linecap="butt" />
<line x1="1619.2" y1="164.89" x2="1623.1" y2="164.89" stroke="#111" stroke-width="1.5" stroke-linecap="butt" />
<line x1="966.3" y1="152.5" x2="973.3" y2="152.5" stroke="#000000" stroke-width="1.2" stroke-linecap="butt" />
<line x1="1616.1" y1="152.5" x2="1623.1" y2="152.5" stroke="#000000" stroke-width="1.2" stroke-linecap="butt" />
<line x1="969.4" y1="155.01" x2="973.3" y2="155.01" stroke="#111" stroke-width="1.5" stroke-linecap="butt" />
<line x1="1619.2" y1="155.01" x2="1623.1" y2="155.01" stroke="#111" stroke-width="1.5" stroke-linecap="butt" />
<line x1="966.3" y1="142.5" x2="973.3" y2="142.5" stroke="#000000" stroke-width="1.2" stroke-linecap="butt" />
<line x1="1616.1" y1="142.5" x2="1623.1" y2="142.5" stroke="#000000" stroke-width="1.2" stroke-linecap="butt" />
<line x1="969.4" y1="145.12" x2="973.3" y2="145.12" stroke="#111" stroke-width="1.5" stroke-linecap="butt" />
<line x1="1619.2" y1="145.12" x2="1623.1" y2="145.12" stroke="#111" stroke-width="1.5" stroke-linecap="butt" />
<line x1="966.3" y1="132.5" x2="973.3" y2="132.5" stroke="#000000" stroke-width="1.2" stroke-linecap="butt" />
<line x1="1616.1" y1="132.5" x2="1623.1" y2="132.5" stroke="#000000" stroke-width="1.2" stroke-linecap="butt" />
<line x1="969.4" y1="135.24" x2="973.3" y2="135.24" stroke="#111" stroke-width="1.5" stroke-linecap="butt" />
<line x1="1619.2" y1="135.24" x2="1623.1" y2="135.24" stroke="#111" stroke-width="1.5" stroke-linecap="butt" />
<line x1="966.3" y1="122.5" x2="973.3" y2="122.5" stroke="#000000" stroke-width="1.2" stroke-linecap="butt" />
<line x1="1616.1" y1="122.5" x2="1623.1" y2="122.5" stroke="#000000" stroke-width="1.2" stroke-linecap="butt" />
<line x1="969.4" y1="125.36" x2="973.3" y2="125.36" stroke="#111" stroke-width="1.5" stroke-linecap="butt" />
<line x1="1619.2" y1="125.36" x2="1623.1" y2="125.36" stroke="#111" stroke-width="1.5" stroke-linecap="butt" />
<line x1="966.3" y1="112.5" x2="973.3" y2="112.5" stroke="#000000" stroke-width="1.2" stroke-linecap="butt" />
<line x1="1616.1" y1="112.5" x2="1623.1" y2="112.5" stroke="#000000" stroke-width="1.2" stroke-linecap="butt" />
<line x1="969.4" y1="115.47" x2="973.3" y2="115.47" stroke="#111" stroke-width="1.5" stroke-linecap="butt" />
<line x1="1619.2" y1="115.47" x2="1623.1" y2="115.47" stroke="#111" stroke-width="1.5" stroke-linecap="butt" />
<line x1="966.3" y1="103.5" x2="973.3" y2="103.5" stroke="#000000" stroke-width="1.2" stroke-linecap="butt" />
<line x1="1616.1" y1="103.5" x2="1623.1" y2="103.5" stroke="#000000" stroke-width="1.2" stroke-linecap="butt" />
<line x1="969.4" y1="105.58" x2="973.3" y2="105.58" stroke="#111" stroke-width="1.5" stroke-linecap="butt" />
<line x1="1619.2" y1="105.58" x2="1623.1" y2="105.58" stroke="#111" stroke-width="1.5" stroke-linecap="butt" />
<line x1="966.3" y1="93.5" x2="973.3" y2="93.5" stroke="#000000" stroke-width="1.2" stroke-linecap="butt" />
<line x1="1616.1" y1="93.5" x2="1623.1" y2="93.5" stroke="#000000" stroke-width="1.2" stroke-linecap="butt" />
<line x1="969.4" y1="95.7" x2="973.3" y2="95.7" stroke="#111" stroke-width="1.5" stroke-linecap="butt" />
<line x1="1619.2" y1="95.7" x2="1623.1" y2="95.7" stroke="#111" stroke-width="1.5" stroke-linecap="butt" />
<line x1="966.3" y1="83.5" x2="973.3" y2="83.5" stroke="#000000" stroke-width="1.2" stroke-linecap="butt" />
<line x1="1616.1" y1="83.5" x2="1623.1" y2="83.5" stroke="#000000" stroke-width="1.2" stroke-linecap="butt" />
<line x1="969.4" y1="85.81" x2="973.3" y2="85.81" stroke="#111" stroke-width="1.5" stroke-linecap="butt" />
<line x1="1619.2" y1="85.81" x2="1623.1" y2="85.81" stroke="#111" stroke-width="1.5" stroke-linecap="butt" />
<line x1="966.3" y1="73.5" x2="973.3" y2="73.5" stroke="#000000" stroke-width="1.2" stroke-linecap="butt" />
<line x1="1616.1" y1="73.5" x2="1623.1" y2="73.5" stroke="#000000" stroke-width="1.2" stroke-linecap="butt" />
<line x1="969.4" y1="75.93" x2="973.3" y2="75.93" stroke="#111" stroke-width="1.5" stroke-linecap="butt" />
<line x1="1619.2" y1="75.93" x2="1623.1" y2="75.93" stroke="#111" stroke-width="1.5" stroke-linecap="butt" />
<line x1="966.3" y1="63.5" x2="973.3" y2="63.5" stroke="#000000" stroke-width="1.2" stroke-linecap="butt" />
<line x1="1616.1" y1="63.5" x2="1623.1" y2="63.5" stroke="#000000" stroke-width="1.2" stroke-linecap="butt" />
<line x1="969.4" y1="66.04" x2="973.3" y2="66.04" stroke="#111" stroke-width="1.5" stroke-linecap="butt" />
<line x1="1619.2" y1="66.04" x2="1623.1" y2="66.04" stroke="#111" stroke-width="1.5" stroke-linecap="butt" />
<line x1="966.3" y1="53.5" x2="973.3" y2="53.5" stroke="#000000" stroke-width="1.2" stroke-linecap="butt" />
<line x1="1616.1" y1="53.5" x2="1623.1" y2="53.5" stroke="#000000" stroke-width="1.2" stroke-linecap="butt" />
<line x1="969.4" y1="56.16" x2="973.3" y2="56.16" stroke="#111" stroke-width="1.5" stroke-linecap="butt" />
<line x1="1619.2" y1="56.16" x2="1623.1" y2="56.16" stroke="#111" stroke-width="1.5" stroke-linecap="butt" />
<line x1="966.3" y1="43.5" x2="973.3" y2="43.5" stroke="#000000" stroke-width="1.2" stroke-linecap="butt" />
<line x1="1616.1" y1="43.5" x2="1623.1" y2="43.5" stroke="#000000" stroke-width="1.2" stroke-linecap="butt" />
<line x1="969.4" y1="46.27" x2="973.3" y2="46.27" stroke="#111" stroke-width="1.5" stroke-linecap="butt" />
<line x1="1619.2" y1="46.27" x2="1623.1" y2="46.27" stroke="#111" stroke-width="1.5" stroke-linecap="butt" />
<line x1="972.5" y1="686.2" x2="972.5" y2="690.2" stroke="#000000" stroke-width="1.2" stroke-linecap="butt" />
<line x1="987.5" y1="686.2" x2="987.5" y2="693.5" stroke="#000000" stroke-width="1.2" stroke-linecap="butt" />
<line x1="987.5" y1="43.3" x2="987.5" y2="49.72" stroke="#000000" stroke-width="1.2" stroke-linecap="butt" />
<line x1="1083.5" y1="686.2" x2="1083.5" y2="690.2" stroke="#000000" stroke-width="1.2" stroke-linecap="butt" />
<line x1="1083.5" y1="43.3" x2="1083.5" y2="46.82" stroke="#000000" stroke-width="1.2" stroke-linecap="butt" />
<line x1="1138.5" y1="686.2" x2="1138.5" y2="690.2" stroke="#000000" stroke-width="1.2" stroke-linecap="butt" />
<line x1="1138.5" y1="43.3" x2="1138.5" y2="46.82" stroke="#000000" stroke-width="1.2" stroke-linecap="butt" />
<line x1="1178.5" y1="686.2" x2="1178.5" y2="690.2" stroke="#000000" stroke-width="1.2" stroke-linecap="butt" />
<line x1="1178.5" y1="43.3" x2="1178.5" y2="46.82" stroke="#000000" stroke-width="1.2" stroke-linecap="butt" />
<line x1="1209.5" y1="686.2" x2="1209.5" y2="690.2" stroke="#000000" stroke-width="1.2" stroke-linecap="butt" />
<line x1="1209.5" y1="43.3" x2="1209.5" y2="46.82" stroke="#000000" stroke-width="1.2" stroke-linecap="butt" />
<line x1="1234.5" y1="686.2" x2="1234.5" y2="690.2" stroke="#000000" stroke-width="1.2" stroke-linecap="butt" />
<line x1="1234.5" y1="43.3" x2="1234.5" y2="46.82" stroke="#000000" stroke-width="1.2" stroke-linecap="butt" />
<line x1="1255.5" y1="686.2" x2="1255.5" y2="690.2" stroke="#000000" stroke-width="1.2" stroke-linecap="butt" />
<line x1="1255.5" y1="43.3" x2="1255.5" y2="46.82" stroke="#000000" stroke-width="1.2" stroke-linecap="butt" />
<line x1="1274.5" y1="686.2" x2="1274.5" y2="690.2" stroke="#000000" stroke-width="1.2" stroke-linecap="butt" />
<line x1="1274.5" y1="43.3" x2="1274.5" y2="46.82" stroke="#000000" stroke-width="1.2" stroke-linecap="butt" />
<line x1="1290.5" y1="686.2" x2="1290.5" y2="690.2" stroke="#000000" stroke-width="1.2" stroke-linecap="butt" />
<line x1="1290.5" y1="43.3" x2="1290.5" y2="46.82" stroke="#000000" stroke-width="1.2" stroke-linecap="butt" />
<line x1="1305.5" y1="686.2" x2="1305.5" y2="693.5" stroke="#000000" stroke-width="1.2" stroke-linecap="butt" />
<line x1="1305.5" y1="43.3" x2="1305.5" y2="49.72" stroke="#000000" stroke-width="1.2" stroke-linecap="butt" />
<line x1="1400.5" y1="686.2" x2="1400.5" y2="690.2" stroke="#000000" stroke-width="1.2" stroke-linecap="butt" />
<line x1="1400.5" y1="43.3" x2="1400.5" y2="46.82" stroke="#000000" stroke-width="1.2" stroke-linecap="butt" />
<line x1="1456.5" y1="686.2" x2="1456.5" y2="690.2" stroke="#000000" stroke-width="1.2" stroke-linecap="butt" />
<line x1="1456.5" y1="43.3" x2="1456.5" y2="46.82" stroke="#000000" stroke-width="1.2" stroke-linecap="butt" />
<line x1="1496.5" y1="686.2" x2="1496.5" y2="690.2" stroke="#000000" stroke-width="1.2" stroke-linecap="butt" />
<line x1="1496.5" y1="43.3" x2="1496.5" y2="46.82" stroke="#000000" stroke-width="1.2" stroke-linecap="butt" />
<line x1="1526.5" y1="686.2" x2="1526.5" y2="690.2" stroke="#000000" stroke-width="1.2" stroke-linecap="butt" />
<line x1="1526.5" y1="43.3" x2="1526.5" y2="46.82" stroke="#000000" stroke-width="1.2" stroke-linecap="butt" />
<line x1="1552.5" y1="686.2" x2="1552.5" y2="690.2" stroke="#000000" stroke-width="1.2" stroke-linecap="butt" />
<line x1="1552.5" y1="43.3" x2="1552.5" y2="46.82" stroke="#000000" stroke-width="1.2" stroke-linecap="butt" />
<line x1="1573.5" y1="686.2" x2="1573.5" y2="690.2" stroke="#000000" stroke-width="1.2" stroke-linecap="butt" />
<line x1="1573.5" y1="43.3" x2="1573.5" y2="46.82" stroke="#000000" stroke-width="1.2" stroke-linecap="butt" />
<line x1="1591.5" y1="686.2" x2="1591.5" y2="690.2" stroke="#000000" stroke-width="1.2" stroke-linecap="butt" />
<line x1="1591.5" y1="43.3" x2="1591.5" y2="46.82" stroke="#000000" stroke-width="1.2" stroke-linecap="butt" />
<line x1="1608.5" y1="686.2" x2="1608.5" y2="690.2" stroke="#000000" stroke-width="1.2" stroke-linecap="butt" />
<line x1="1608.5" y1="43.3" x2="1608.5" y2="46.82" stroke="#000000" stroke-width="1.2" stroke-linecap="butt" />
<line x1="1622.5" y1="686.2" x2="1622.5" y2="693.5" stroke="#000000" stroke-width="1.2" stroke-linecap="butt" />
<text transform="translate(962.9 704) scale(1 1.0400)" font-family='"Liberation Serif", "Times New Roman", serif' font-size="45.8" text-anchor="end"  >10<tspan font-size="27.6" dy="-21.06">0</tspan></text>
<text transform="translate(962.9 605.15) scale(1 1.0400)" font-family='"Liberation Serif", "Times New Roman", serif' font-size="45.8" text-anchor="end"  >10<tspan font-size="27.6" dy="-21.06">10</tspan></text>
<text transform="translate(962.9 506.3) scale(1 1.0400)" font-family='"Liberation Serif", "Times New Roman", serif' font-size="45.8" text-anchor="end"  >10<tspan font-size="27.6" dy="-21.06">20</tspan></text>
<text transform="translate(962.9 407.45) scale(1 1.0400)" font-family='"Liberation Serif", "Times New Roman", serif' font-size="45.8" text-anchor="end"  >10<tspan font-size="27.6" dy="-21.06">30</tspan></text>
<text transform="translate(962.9 308.6) scale(1 1.0400)" font-family='"Liberation Serif", "Times New Roman", serif' font-size="45.8" text-anchor="end"  >10<tspan font-size="27.6" dy="-21.06">40</tspan></text>
<text transform="translate(962.9 209.75) scale(1 1.0400)" font-family='"Liberation Serif", "Times New Roman", serif' font-size="45.8" text-anchor="end"  >10<tspan font-size="27.6" dy="-21.06">50</tspan></text>
<text transform="translate(962.9 110.9) scale(1 1.0400)" font-family='"Liberation Serif", "Times New Roman", serif' font-size="45.8" text-anchor="end"  >10<tspan font-size="27.6" dy="-21.06">60</tspan></text>
<text transform="translate(987.6 732.6) scale(1 1.0400)" font-family='"Liberation Serif", "Times New Roman", serif' font-size="45.8" text-anchor="middle"  >0.01</text>
<text transform="translate(1304.5 732.6) scale(1 1.0400)" font-family='"Liberation Serif", "Times New Roman", serif' font-size="45.8" text-anchor="middle"  >0.1</text>
<text transform="translate(1622.6 732.6) scale(1 1.0400)" font-family='"Liberation Serif", "Times New Roman", serif' font-size="45.8" text-anchor="middle"  >1</text>
<text transform="translate(879.2,378.4) rotate(-90)" font-family='"Liberation Serif", "Times New Roman", serif' font-size="70" font-style="italic" font-weight="bold" text-anchor="middle">r</text>
<text x="1221.5" y="796.1" font-family='"Liberation Serif", "Times New Roman", serif' font-size="55" text-anchor="start"  ><tspan font-style="italic">p</tspan><tspan font-size="33" dy="18.8">out</tspan><tspan dy="-18.8">/</tspan><tspan font-style="italic">p</tspan><tspan font-size="33" dy="18.8">in</tspan></text>
<line x1="1046.3" y1="80.8" x2="1137.8" y2="80.8" stroke="#000000" stroke-width="1.75" stroke-linecap="butt" />
<line x1="1046.3" y1="130.7" x2="1137.8" y2="130.7" stroke="#ff0000" stroke-width="1.75" stroke-linecap="butt" />
<line x1="1046.3" y1="181" x2="1137.8" y2="181" stroke="#00ff00" stroke-width="1.75" stroke-linecap="butt" />
<line x1="1046.3" y1="231.2" x2="1137.8" y2="231.2" stroke="#0000ff" stroke-width="1.75" stroke-linecap="butt" />
<rect x="1080.05" y="69.05" width="23.5" height="23.5" fill="#000000"/>
<circle cx="1091.8" cy="130.7" r="13.05" fill="#ff0000"/>
<polygon points="1091.8,162.87 1076.1,190.06 1107.5,190.06" fill="#00ff00"/>
<polygon points="1091.8,249.33 1076.1,222.14 1107.5,222.14" fill="#0000ff"/>
<text transform="translate(1146.8 95.2) scale(1 1.0500)" font-family='"Liberation Serif", "Times New Roman", serif' font-size="40.6" text-anchor="start"  ><tspan font-style="italic">x</tspan>=2</text>
<text transform="translate(1146.8 145.1) scale(1 1.0500)" font-family='"Liberation Serif", "Times New Roman", serif' font-size="40.6" text-anchor="start"  ><tspan font-style="italic">x</tspan>=3</text>
<text transform="translate(1146.8 195.4) scale(1 1.0500)" font-family='"Liberation Serif", "Times New Roman", serif' font-size="40.6" text-anchor="start"  ><tspan font-style="italic">x</tspan>=2(1 group)</text>
<text transform="translate(1146.8 245.6) scale(1 1.0500)" font-family='"Liberation Serif", "Times New Roman", serif' font-size="40.6" text-anchor="start"  ><tspan font-style="italic">x</tspan>=3(1 group)</text>
<line x1="1332" y1="83.8" x2="1424" y2="83.8" stroke="#000000" stroke-width="1.6" stroke-linecap="butt" />
<line x1="1332" y1="133.5" x2="1424" y2="133.5" stroke="#ff0000" stroke-width="1.8" stroke-linecap="butt" stroke-dasharray="7.3 6.9"/>
<text transform="translate(1432.7 97) scale(1 1.0500)" font-family='"Liberation Serif", "Times New Roman", serif' font-size="40.6" text-anchor="start"  ><tspan font-style="italic">x</tspan>=2 (Mod)</text>
<text transform="translate(1432.7 146.7) scale(1 1.0500)" font-family='"Liberation Serif", "Times New Roman", serif' font-size="40.6" text-anchor="start"  ><tspan font-style="italic">x</tspan>=3 (Mod)</text>
<!-- Panel C -->
<text x="12.9" y="866.9" font-family='"Liberation Serif", "Times New Roman", serif' font-size="70" text-anchor="start"  >C</text>
<clipPath id="clipC"><rect x="133.8" y="856.9" width="665" height="647.1"/></clipPath>
<g clip-path="url(#clipC)">
<polyline points="172.8,1302.4 211.94,1349.3 251.07,1379 290.21,1398 329.34,1412.6 368.48,1423.1 407.61,1431.4 446.75,1438.4 485.88,1443.5 525.01,1447.1 564.15,1451.2 603.29,1454.7 642.42,1457.4 681.56,1459.5 720.69,1461.7 759.83,1462.8" fill="none" stroke="#000000" stroke-width="1" stroke-linecap="round" stroke-linejoin="round" />
<rect x="161.1" y="1290.7" width="23.4" height="23.4" fill="#000000"/>
<rect x="200.24" y="1337.6" width="23.4" height="23.4" fill="#000000"/>
<rect x="239.37" y="1367.3" width="23.4" height="23.4" fill="#000000"/>
<rect x="278.51" y="1386.3" width="23.4" height="23.4" fill="#000000"/>
<rect x="317.64" y="1400.9" width="23.4" height="23.4" fill="#000000"/>
<rect x="356.78" y="1411.4" width="23.4" height="23.4" fill="#000000"/>
<rect x="395.91" y="1419.7" width="23.4" height="23.4" fill="#000000"/>
<rect x="435.05" y="1426.7" width="23.4" height="23.4" fill="#000000"/>
<rect x="474.18" y="1431.8" width="23.4" height="23.4" fill="#000000"/>
<rect x="513.31" y="1435.4" width="23.4" height="23.4" fill="#000000"/>
<rect x="552.45" y="1439.5" width="23.4" height="23.4" fill="#000000"/>
<rect x="591.59" y="1443" width="23.4" height="23.4" fill="#000000"/>
<rect x="630.72" y="1445.7" width="23.4" height="23.4" fill="#000000"/>
<rect x="669.86" y="1447.8" width="23.4" height="23.4" fill="#000000"/>
<rect x="708.99" y="1450" width="23.4" height="23.4" fill="#000000"/>
<rect x="748.12" y="1451.1" width="23.4" height="23.4" fill="#000000"/>
<polyline points="172.8,1053.1 211.94,1166.5 251.07,1240.1 290.21,1291.4 329.34,1328.1 368.48,1356.5 407.61,1378.8 446.75,1395.4 485.88,1410 525.01,1422 564.15,1431.4 603.29,1439.5 642.42,1446.7 681.56,1452.6 720.69,1458 759.83,1462.4" fill="none" stroke="#ff0000" stroke-width="1" stroke-linecap="round" stroke-linejoin="round" />
<circle cx="172.8" cy="1053.1" r="13.1" fill="#ff0000"/>
<circle cx="211.94" cy="1166.5" r="13.1" fill="#ff0000"/>
<circle cx="251.07" cy="1240.1" r="13.1" fill="#ff0000"/>
<circle cx="290.21" cy="1291.4" r="13.1" fill="#ff0000"/>
<circle cx="329.34" cy="1328.1" r="13.1" fill="#ff0000"/>
<circle cx="368.48" cy="1356.5" r="13.1" fill="#ff0000"/>
<circle cx="407.61" cy="1378.8" r="13.1" fill="#ff0000"/>
<circle cx="446.75" cy="1395.4" r="13.1" fill="#ff0000"/>
<circle cx="485.88" cy="1410" r="13.1" fill="#ff0000"/>
<circle cx="525.01" cy="1422" r="13.1" fill="#ff0000"/>
<circle cx="564.15" cy="1431.4" r="13.1" fill="#ff0000"/>
<circle cx="603.29" cy="1439.5" r="13.1" fill="#ff0000"/>
<circle cx="642.42" cy="1446.7" r="13.1" fill="#ff0000"/>
<circle cx="681.56" cy="1452.6" r="13.1" fill="#ff0000"/>
<circle cx="720.69" cy="1458" r="13.1" fill="#ff0000"/>
<circle cx="759.83" cy="1462.4" r="13.1" fill="#ff0000"/>
<polyline points="172.8,907.5 211.94,1036.6 251.07,1123.2 290.21,1186.2 329.34,1234.8 368.48,1273 407.61,1304.7 446.75,1332 485.88,1353.6 525.01,1373.9 564.15,1390.9 603.29,1406.6 642.42,1421.3 681.56,1432.8 720.69,1444.8 759.83,1455.3" fill="none" stroke="#00ff00" stroke-width="1" stroke-linecap="round" stroke-linejoin="round" />
<polygon points="172.8,889.49 157.2,916.51 188.4,916.51" fill="#00ff00"/>
<polygon points="211.94,1018.59 196.34,1045.61 227.53,1045.61" fill="#00ff00"/>
<polygon points="251.07,1105.19 235.47,1132.21 266.67,1132.21" fill="#00ff00"/>
<polygon points="290.21,1168.19 274.61,1195.21 305.81,1195.21" fill="#00ff00"/>
<polygon points="329.34,1216.79 313.74,1243.81 344.94,1243.81" fill="#00ff00"/>
<polygon points="368.48,1254.99 352.88,1282.01 384.08,1282.01" fill="#00ff00"/>
<polygon points="407.61,1286.69 392.01,1313.71 423.21,1313.71" fill="#00ff00"/>
<polygon points="446.75,1313.99 431.14,1341.01 462.35,1341.01" fill="#00ff00"/>
<polygon points="485.88,1335.59 470.28,1362.61 501.48,1362.61" fill="#00ff00"/>
<polygon points="525.01,1355.89 509.41,1382.91 540.62,1382.91" fill="#00ff00"/>
<polygon points="564.15,1372.89 548.55,1399.91 579.75,1399.91" fill="#00ff00"/>
<polygon points="603.29,1388.59 587.69,1415.61 618.89,1415.61" fill="#00ff00"/>
<polygon points="642.42,1403.29 626.82,1430.31 658.02,1430.31" fill="#00ff00"/>
<polygon points="681.56,1414.79 665.96,1441.81 697.16,1441.81" fill="#00ff00"/>
<polygon points="720.69,1426.79 705.09,1453.81 736.29,1453.81" fill="#00ff00"/>
<polygon points="759.83,1437.29 744.23,1464.31 775.43,1464.31" fill="#00ff00"/>
<polyline points="172.8,1386.5 211.94,1400.7 251.07,1411.8 290.21,1420.6 329.34,1428 368.48,1433.7 407.61,1438.9 446.75,1443.9 485.88,1447 525.01,1450.2 564.15,1453.5 603.29,1456.1 642.42,1458.5 681.56,1460.7 720.69,1462.6 759.83,1464.4" fill="none" stroke="#0000ff" stroke-width="1" stroke-linecap="round" stroke-linejoin="round" />
<polygon points="172.8,1404.51 157.2,1377.49 188.4,1377.49" fill="#0000ff"/>
<polygon points="211.94,1418.71 196.34,1391.69 227.53,1391.69" fill="#0000ff"/>
<polygon points="251.07,1429.81 235.47,1402.79 266.67,1402.79" fill="#0000ff"/>
<polygon points="290.21,1438.61 274.61,1411.59 305.81,1411.59" fill="#0000ff"/>
<polygon points="329.34,1446.01 313.74,1418.99 344.94,1418.99" fill="#0000ff"/>
<polygon points="368.48,1451.71 352.88,1424.69 384.08,1424.69" fill="#0000ff"/>
<polygon points="407.61,1456.91 392.01,1429.89 423.21,1429.89" fill="#0000ff"/>
<polygon points="446.75,1461.91 431.14,1434.89 462.35,1434.89" fill="#0000ff"/>
<polygon points="485.88,1465.01 470.28,1437.99 501.48,1437.99" fill="#0000ff"/>
<polygon points="525.01,1468.21 509.41,1441.19 540.62,1441.19" fill="#0000ff"/>
<polygon points="564.15,1471.51 548.55,1444.49 579.75,1444.49" fill="#0000ff"/>
<polygon points="603.29,1474.11 587.69,1447.09 618.89,1447.09" fill="#0000ff"/>
<polygon points="642.42,1476.51 626.82,1449.49 658.02,1449.49" fill="#0000ff"/>
<polygon points="681.56,1478.71 665.96,1451.69 697.16,1451.69" fill="#0000ff"/>
<polygon points="720.69,1480.61 705.09,1453.59 736.29,1453.59" fill="#0000ff"/>
<polygon points="759.83,1482.41 744.23,1455.39 775.43,1455.39" fill="#0000ff"/>
<polyline points="172.8,1194.5 211.94,1273.5 251.07,1324.8 290.21,1359.8 329.34,1383.8 368.48,1401.3 407.61,1414.4 446.75,1425.3 485.88,1433.7 525.01,1441.7 564.15,1447.8 603.29,1452.6 642.42,1455.9 681.56,1458.7 720.69,1460.9 759.83,1463" fill="none" stroke="#000000" stroke-width="7" stroke-linecap="round" stroke-linejoin="round" />
<polyline points="446.75,1065.6 485.88,1284.5 525.01,1357.6 564.15,1393.6 603.29,1415.5 642.42,1431.8 681.56,1442.8 720.69,1447.8 759.83,1460.9" fill="none" stroke="#ff0000" stroke-width="7" stroke-linecap="round" stroke-linejoin="round" />
</g>
<rect x="133.8" y="856.9" width="665" height="647.1" fill="none" stroke="#000" stroke-width="1.4"/>
<line x1="130" y1="1466.5" x2="133.8" y2="1466.5" stroke="#000000" stroke-width="1.1" stroke-linecap="butt" />
<line x1="795" y1="1466.5" x2="798.8" y2="1466.5" stroke="#000000" stroke-width="1.1" stroke-linecap="butt" />
<line x1="130" y1="1439.5" x2="133.8" y2="1439.5" stroke="#000000" stroke-width="1.1" stroke-linecap="butt" />
<line x1="795" y1="1439.5" x2="798.8" y2="1439.5" stroke="#000000" stroke-width="1.1" stroke-linecap="butt" />
<line x1="130" y1="1418.5" x2="133.8" y2="1418.5" stroke="#000000" stroke-width="1.1" stroke-linecap="butt" />
<line x1="795" y1="1418.5" x2="798.8" y2="1418.5" stroke="#000000" stroke-width="1.1" stroke-linecap="butt" />
<line x1="130" y1="1401.5" x2="133.8" y2="1401.5" stroke="#000000" stroke-width="1.1" stroke-linecap="butt" />
<line x1="795" y1="1401.5" x2="798.8" y2="1401.5" stroke="#000000" stroke-width="1.1" stroke-linecap="butt" />
<line x1="130" y1="1386.5" x2="133.8" y2="1386.5" stroke="#000000" stroke-width="1.1" stroke-linecap="butt" />
<line x1="795" y1="1386.5" x2="798.8" y2="1386.5" stroke="#000000" stroke-width="1.1" stroke-linecap="butt" />
<line x1="130" y1="1374.5" x2="133.8" y2="1374.5" stroke="#000000" stroke-width="1.1" stroke-linecap="butt" />
<line x1="795" y1="1374.5" x2="798.8" y2="1374.5" stroke="#000000" stroke-width="1.1" stroke-linecap="butt" />
<line x1="130" y1="1363.5" x2="133.8" y2="1363.5" stroke="#000000" stroke-width="1.1" stroke-linecap="butt" />
<line x1="795" y1="1363.5" x2="798.8" y2="1363.5" stroke="#000000" stroke-width="1.1" stroke-linecap="butt" />
<line x1="126.9" y1="1353.5" x2="133.8" y2="1353.5" stroke="#000000" stroke-width="1.1" stroke-linecap="butt" />
<line x1="791.9" y1="1353.5" x2="798.8" y2="1353.5" stroke="#000000" stroke-width="1.1" stroke-linecap="butt" />
<line x1="130" y1="1288.5" x2="133.8" y2="1288.5" stroke="#000000" stroke-width="1.1" stroke-linecap="butt" />
<line x1="795" y1="1288.5" x2="798.8" y2="1288.5" stroke="#000000" stroke-width="1.1" stroke-linecap="butt" />
<line x1="130" y1="1250.5" x2="133.8" y2="1250.5" stroke="#000000" stroke-width="1.1" stroke-linecap="butt" />
<line x1="795" y1="1250.5" x2="798.8" y2="1250.5" stroke="#000000" stroke-width="1.1" stroke-linecap="butt" />
<line x1="130" y1="1223.5" x2="133.8" y2="1223.5" stroke="#000000" stroke-width="1.1" stroke-linecap="butt" />
<line x1="795" y1="1223.5" x2="798.8" y2="1223.5" stroke="#000000" stroke-width="1.1" stroke-linecap="butt" />
<line x1="130" y1="1202.5" x2="133.8" y2="1202.5" stroke="#000000" stroke-width="1.1" stroke-linecap="butt" />
<line x1="795" y1="1202.5" x2="798.8" y2="1202.5" stroke="#000000" stroke-width="1.1" stroke-linecap="butt" />
<line x1="130" y1="1185.5" x2="133.8" y2="1185.5" stroke="#000000" stroke-width="1.1" stroke-linecap="butt" />
<line x1="795" y1="1185.5" x2="798.8" y2="1185.5" stroke="#000000" stroke-width="1.1" stroke-linecap="butt" />
<line x1="130" y1="1170.5" x2="133.8" y2="1170.5" stroke="#000000" stroke-width="1.1" stroke-linecap="butt" />
<line x1="795" y1="1170.5" x2="798.8" y2="1170.5" stroke="#000000" stroke-width="1.1" stroke-linecap="butt" />
<line x1="130" y1="1158.5" x2="133.8" y2="1158.5" stroke="#000000" stroke-width="1.1" stroke-linecap="butt" />
<line x1="795" y1="1158.5" x2="798.8" y2="1158.5" stroke="#000000" stroke-width="1.1" stroke-linecap="butt" />
<line x1="130" y1="1147.5" x2="133.8" y2="1147.5" stroke="#000000" stroke-width="1.1" stroke-linecap="butt" />
<line x1="795" y1="1147.5" x2="798.8" y2="1147.5" stroke="#000000" stroke-width="1.1" stroke-linecap="butt" />
<line x1="126.9" y1="1137.5" x2="133.8" y2="1137.5" stroke="#000000" stroke-width="1.1" stroke-linecap="butt" />
<line x1="791.9" y1="1137.5" x2="798.8" y2="1137.5" stroke="#000000" stroke-width="1.1" stroke-linecap="butt" />
<line x1="130" y1="1072.5" x2="133.8" y2="1072.5" stroke="#000000" stroke-width="1.1" stroke-linecap="butt" />
<line x1="795" y1="1072.5" x2="798.8" y2="1072.5" stroke="#000000" stroke-width="1.1" stroke-linecap="butt" />
<line x1="130" y1="1034.5" x2="133.8" y2="1034.5" stroke="#000000" stroke-width="1.1" stroke-linecap="butt" />
<line x1="795" y1="1034.5" x2="798.8" y2="1034.5" stroke="#000000" stroke-width="1.1" stroke-linecap="butt" />
<line x1="130" y1="1007.5" x2="133.8" y2="1007.5" stroke="#000000" stroke-width="1.1" stroke-linecap="butt" />
<line x1="795" y1="1007.5" x2="798.8" y2="1007.5" stroke="#000000" stroke-width="1.1" stroke-linecap="butt" />
<line x1="130" y1="986.5" x2="133.8" y2="986.5" stroke="#000000" stroke-width="1.1" stroke-linecap="butt" />
<line x1="795" y1="986.5" x2="798.8" y2="986.5" stroke="#000000" stroke-width="1.1" stroke-linecap="butt" />
<line x1="130" y1="969.5" x2="133.8" y2="969.5" stroke="#000000" stroke-width="1.1" stroke-linecap="butt" />
<line x1="795" y1="969.5" x2="798.8" y2="969.5" stroke="#000000" stroke-width="1.1" stroke-linecap="butt" />
<line x1="130" y1="955.5" x2="133.8" y2="955.5" stroke="#000000" stroke-width="1.1" stroke-linecap="butt" />
<line x1="795" y1="955.5" x2="798.8" y2="955.5" stroke="#000000" stroke-width="1.1" stroke-linecap="butt" />
<line x1="130" y1="942.5" x2="133.8" y2="942.5" stroke="#000000" stroke-width="1.1" stroke-linecap="butt" />
<line x1="795" y1="942.5" x2="798.8" y2="942.5" stroke="#000000" stroke-width="1.1" stroke-linecap="butt" />
<line x1="130" y1="931.5" x2="133.8" y2="931.5" stroke="#000000" stroke-width="1.1" stroke-linecap="butt" />
<line x1="795" y1="931.5" x2="798.8" y2="931.5" stroke="#000000" stroke-width="1.1" stroke-linecap="butt" />
<line x1="126.9" y1="921.5" x2="133.8" y2="921.5" stroke="#000000" stroke-width="1.1" stroke-linecap="butt" />
<line x1="791.9" y1="921.5" x2="798.8" y2="921.5" stroke="#000000" stroke-width="1.1" stroke-linecap="butt" />
<line x1="172.5" y1="1504" x2="172.5" y2="1510.9" stroke="#000000" stroke-width="1.2" stroke-linecap="butt" />
<line x1="172.5" y1="856.9" x2="172.5" y2="863.45" stroke="#000000" stroke-width="1.2" stroke-linecap="butt" />
<line x1="251.5" y1="1504" x2="251.5" y2="1507.8" stroke="#000000" stroke-width="1.2" stroke-linecap="butt" />
<line x1="251.5" y1="856.9" x2="251.5" y2="860.51" stroke="#000000" stroke-width="1.2" stroke-linecap="butt" />
<line x1="329.5" y1="1504" x2="329.5" y2="1510.9" stroke="#000000" stroke-width="1.2" stroke-linecap="butt" />
<line x1="329.5" y1="856.9" x2="329.5" y2="863.45" stroke="#000000" stroke-width="1.2" stroke-linecap="butt" />
<line x1="407.5" y1="1504" x2="407.5" y2="1507.8" stroke="#000000" stroke-width="1.2" stroke-linecap="butt" />
<line x1="407.5" y1="856.9" x2="407.5" y2="860.51" stroke="#000000" stroke-width="1.2" stroke-linecap="butt" />
<line x1="485.5" y1="1504" x2="485.5" y2="1510.9" stroke="#000000" stroke-width="1.2" stroke-linecap="butt" />
<line x1="485.5" y1="856.9" x2="485.5" y2="863.45" stroke="#000000" stroke-width="1.2" stroke-linecap="butt" />
<line x1="564.5" y1="1504" x2="564.5" y2="1507.8" stroke="#000000" stroke-width="1.2" stroke-linecap="butt" />
<line x1="564.5" y1="856.9" x2="564.5" y2="860.51" stroke="#000000" stroke-width="1.2" stroke-linecap="butt" />
<line x1="642.5" y1="1504" x2="642.5" y2="1510.9" stroke="#000000" stroke-width="1.2" stroke-linecap="butt" />
<line x1="642.5" y1="856.9" x2="642.5" y2="863.45" stroke="#000000" stroke-width="1.2" stroke-linecap="butt" />
<line x1="720.5" y1="1504" x2="720.5" y2="1507.8" stroke="#000000" stroke-width="1.2" stroke-linecap="butt" />
<line x1="720.5" y1="856.9" x2="720.5" y2="860.51" stroke="#000000" stroke-width="1.2" stroke-linecap="butt" />
<line x1="798.5" y1="1504" x2="798.5" y2="1510.9" stroke="#000000" stroke-width="1.2" stroke-linecap="butt" />
<text transform="translate(122 1371.3) scale(1 1.0400)" font-family='"Liberation Serif", "Times New Roman", serif' font-size="45.8" text-anchor="end"  >10<tspan font-size="27.6" dy="-21.06">1</tspan></text>
<text transform="translate(122 1155.5) scale(1 1.0400)" font-family='"Liberation Serif", "Times New Roman", serif' font-size="45.8" text-anchor="end"  >10<tspan font-size="27.6" dy="-21.06">2</tspan></text>
<text transform="translate(122 939.7) scale(1 1.0400)" font-family='"Liberation Serif", "Times New Roman", serif' font-size="45.8" text-anchor="end"  >10<tspan font-size="27.6" dy="-21.06">3</tspan></text>
<text transform="translate(172.8 1550.7) scale(1 1.0400)" font-family='"Liberation Serif", "Times New Roman", serif' font-size="45.8" text-anchor="middle"  >0.2</text>
<text transform="translate(329.34 1550.7) scale(1 1.0400)" font-family='"Liberation Serif", "Times New Roman", serif' font-size="45.8" text-anchor="middle"  >0.4</text>
<text transform="translate(485.88 1550.7) scale(1 1.0400)" font-family='"Liberation Serif", "Times New Roman", serif' font-size="45.8" text-anchor="middle"  >0.6</text>
<text transform="translate(642.42 1550.7) scale(1 1.0400)" font-family='"Liberation Serif", "Times New Roman", serif' font-size="45.8" text-anchor="middle"  >0.8</text>
<text transform="translate(798.96 1550.7) scale(1 1.0400)" font-family='"Liberation Serif", "Times New Roman", serif' font-size="45.8" text-anchor="middle"  >1.0</text>
<text transform="translate(31.1,1164.4) rotate(-90)" font-family='"Liberation Serif", "Times New Roman", serif' font-size="72" font-style="italic" font-weight="bold" text-anchor="middle">r</text>
<text x="396.8" y="1628" font-family='"Liberation Serif", "Times New Roman", serif' font-size="55" text-anchor="start"  ><tspan font-style="italic">p</tspan><tspan font-size="33" dy="18.8">out</tspan><tspan dy="-18.8">/</tspan><tspan font-style="italic">p</tspan><tspan font-size="33" dy="18.8">in</tspan></text>
<line x1="299.3" y1="896.5" x2="390.5" y2="896.5" stroke="#000000" stroke-width="1" stroke-linecap="butt" />
<rect x="332.9" y="884.7" width="23.4" height="23.4" fill="#000000"/>
<line x1="299.3" y1="946.5" x2="390.5" y2="946.5" stroke="#00ff00" stroke-width="1" stroke-linecap="butt" />
<polygon points="344.6,928.59 329,955.61 360.2,955.61" fill="#00ff00"/>
<line x1="300" y1="996.3" x2="390.1" y2="996.3" stroke="#000000" stroke-width="7" stroke-linecap="round" />
<line x1="300" y1="1046.2" x2="390.1" y2="1046.2" stroke="#ff0000" stroke-width="7" stroke-linecap="round" />
<text transform="translate(400.2 910) scale(1 1.0350)" font-family='"Liberation Serif", "Times New Roman", serif' font-size="40.5" text-anchor="start"  >Sq</text>
<text transform="translate(400.2 960.2) scale(1 1.0350)" font-family='"Liberation Serif", "Times New Roman", serif' font-size="40.5" text-anchor="start"  >Sg</text>
<text transform="translate(400.2 1009.9) scale(1 1.0350)" font-family='"Liberation Serif", "Times New Roman", serif' font-size="40.5" text-anchor="start"  >Sq(1 group)</text>
<text transform="translate(400.2 1059.8) scale(1 1.0350)" font-family='"Liberation Serif", "Times New Roman", serif' font-size="40.5" text-anchor="start"  >Sp(1 group)</text>
<line x1="603.3" y1="896.5" x2="694.7" y2="896.5" stroke="#ff0000" stroke-width="1" stroke-linecap="butt" />
<circle cx="649.1" cy="896.2" r="13.1" fill="#ff0000"/>
<line x1="603.3" y1="946.5" x2="694.7" y2="946.5" stroke="#0000ff" stroke-width="1" stroke-linecap="butt" />
<polygon points="649.1,964.41 633.5,937.39 664.7,937.39" fill="#0000ff"/>
<text transform="translate(703.7 909.8) scale(1 1.0350)" font-family='"Liberation Serif", "Times New Roman", serif' font-size="40.5" text-anchor="start"  >Sp</text>
<text transform="translate(703.7 960) scale(1 1.0350)" font-family='"Liberation Serif", "Times New Roman", serif' font-size="40.5" text-anchor="start"  >Mod</text>
<text transform="translate(298.7 1109.9) scale(1 1.0350)" font-family='"Liberation Serif", "Times New Roman", serif' font-size="40.5" text-anchor="start"  >For single-level networks</text>
<!-- Panel D -->
<text x="858" y="866.9" font-family='"Liberation Serif", "Times New Roman", serif' font-size="70" text-anchor="start"  >D</text>
<clipPath id="clipD"><rect x="973.7" y="858" width="649.4" height="647.5"/></clipPath>
<g clip-path="url(#clipD)">
<polyline points="1011.8,1304.1 1050,1363.1 1088.2,1400.2 1126.4,1424.2 1164.6,1441.7 1202.8,1454.1 1241,1463.5 1279.2,1467 1317.4,1467.4 1355.6,1467.4 1393.8,1467.4 1432,1467.4 1470.2,1467.4 1508.4,1467.4 1546.6,1467.4 1584.8,1467.4" fill="none" stroke="#000000" stroke-width="1" stroke-linecap="round" stroke-linejoin="round" />
<rect x="1000.1" y="1292.4" width="23.4" height="23.4" fill="#000000"/>
<rect x="1038.3" y="1351.4" width="23.4" height="23.4" fill="#000000"/>
<rect x="1076.5" y="1388.5" width="23.4" height="23.4" fill="#000000"/>
<rect x="1114.7" y="1412.5" width="23.4" height="23.4" fill="#000000"/>
<rect x="1152.9" y="1430" width="23.4" height="23.4" fill="#000000"/>
<rect x="1191.1" y="1442.4" width="23.4" height="23.4" fill="#000000"/>
<rect x="1229.3" y="1451.8" width="23.4" height="23.4" fill="#000000"/>
<rect x="1267.5" y="1455.3" width="23.4" height="23.4" fill="#000000"/>
<rect x="1305.7" y="1455.7" width="23.4" height="23.4" fill="#000000"/>
<rect x="1343.9" y="1455.7" width="23.4" height="23.4" fill="#000000"/>
<rect x="1382.1" y="1455.7" width="23.4" height="23.4" fill="#000000"/>
<rect x="1420.3" y="1455.7" width="23.4" height="23.4" fill="#000000"/>
<rect x="1458.5" y="1455.7" width="23.4" height="23.4" fill="#000000"/>
<rect x="1496.7" y="1455.7" width="23.4" height="23.4" fill="#000000"/>
<rect x="1534.9" y="1455.7" width="23.4" height="23.4" fill="#000000"/>
<rect x="1573.1" y="1455.7" width="23.4" height="23.4" fill="#000000"/>
<polyline points="1011.8,1053.8 1050,1181.5 1088.2,1265.2 1126.4,1323.3 1164.6,1365.9 1202.8,1396.9 1241,1419.8 1279.2,1437.7 1317.4,1450.4 1355.6,1460.2 1393.8,1465.7 1432,1467.4 1470.2,1467.4 1508.4,1467.4 1546.6,1467.4 1584.8,1467.4" fill="none" stroke="#ff0000" stroke-width="1" stroke-linecap="round" stroke-linejoin="round" />
<circle cx="1011.8" cy="1053.8" r="13.1" fill="#ff0000"/>
<circle cx="1050" cy="1181.5" r="13.1" fill="#ff0000"/>
<circle cx="1088.2" cy="1265.2" r="13.1" fill="#ff0000"/>
<circle cx="1126.4" cy="1323.3" r="13.1" fill="#ff0000"/>
<circle cx="1164.6" cy="1365.9" r="13.1" fill="#ff0000"/>
<circle cx="1202.8" cy="1396.9" r="13.1" fill="#ff0000"/>
<circle cx="1241" cy="1419.8" r="13.1" fill="#ff0000"/>
<circle cx="1279.2" cy="1437.7" r="13.1" fill="#ff0000"/>
<circle cx="1317.4" cy="1450.4" r="13.1" fill="#ff0000"/>
<circle cx="1355.6" cy="1460.2" r="13.1" fill="#ff0000"/>
<circle cx="1393.8" cy="1465.7" r="13.1" fill="#ff0000"/>
<circle cx="1432" cy="1467.4" r="13.1" fill="#ff0000"/>
<circle cx="1470.2" cy="1467.4" r="13.1" fill="#ff0000"/>
<circle cx="1508.4" cy="1467.4" r="13.1" fill="#ff0000"/>
<circle cx="1546.6" cy="1467.4" r="13.1" fill="#ff0000"/>
<circle cx="1584.8" cy="1467.4" r="13.1" fill="#ff0000"/>
<polyline points="1011.8,908.7 1050,1040.4 1088.2,1130.3 1126.4,1196.1 1164.6,1247.2 1202.8,1287.6 1241,1321.5 1279.2,1350.3 1317.4,1375 1355.6,1396.1 1393.8,1414.9 1432,1432.4 1470.2,1447.7 1508.4,1461.5 1546.6,1467.4 1584.8,1467.4" fill="none" stroke="#00ff00" stroke-width="1" stroke-linecap="round" stroke-linejoin="round" />
<polygon points="1011.8,890.69 996.2,917.71 1027.4,917.71" fill="#00ff00"/>
<polygon points="1050,1022.39 1034.4,1049.41 1065.6,1049.41" fill="#00ff00"/>
<polygon points="1088.2,1112.29 1072.6,1139.31 1103.8,1139.31" fill="#00ff00"/>
<polygon points="1126.4,1178.09 1110.8,1205.11 1142,1205.11" fill="#00ff00"/>
<polygon points="1164.6,1229.19 1149,1256.21 1180.2,1256.21" fill="#00ff00"/>
<polygon points="1202.8,1269.59 1187.2,1296.61 1218.4,1296.61" fill="#00ff00"/>
<polygon points="1241,1303.49 1225.4,1330.51 1256.6,1330.51" fill="#00ff00"/>
<polygon points="1279.2,1332.29 1263.6,1359.31 1294.8,1359.31" fill="#00ff00"/>
<polygon points="1317.4,1356.99 1301.8,1384.01 1333,1384.01" fill="#00ff00"/>
<polygon points="1355.6,1378.09 1340,1405.11 1371.2,1405.11" fill="#00ff00"/>
<polygon points="1393.8,1396.89 1378.2,1423.91 1409.4,1423.91" fill="#00ff00"/>
<polygon points="1432,1414.39 1416.4,1441.41 1447.6,1441.41" fill="#00ff00"/>
<polygon points="1470.2,1429.69 1454.6,1456.71 1485.8,1456.71" fill="#00ff00"/>
<polygon points="1508.4,1443.49 1492.8,1470.51 1524,1470.51" fill="#00ff00"/>
<polygon points="1546.6,1449.39 1531,1476.41 1562.2,1476.41" fill="#00ff00"/>
<polygon points="1584.8,1449.39 1569.2,1476.41 1600.4,1476.41" fill="#00ff00"/>
<polyline points="1011.8,1388.3 1050,1406.2 1088.2,1419.9 1126.4,1431.5 1164.6,1440.7 1202.8,1448.7 1241,1455.9 1279.2,1462 1317.4,1466.9 1355.6,1467.4 1393.8,1467.4 1432,1467.4 1470.2,1467.4 1508.4,1467.4 1546.6,1467.4 1584.8,1467.4" fill="none" stroke="#0000ff" stroke-width="1" stroke-linecap="round" stroke-linejoin="round" />
<polygon points="1011.8,1406.31 996.2,1379.29 1027.4,1379.29" fill="#0000ff"/>
<polygon points="1050,1424.21 1034.4,1397.19 1065.6,1397.19" fill="#0000ff"/>
<polygon points="1088.2,1437.91 1072.6,1410.89 1103.8,1410.89" fill="#0000ff"/>
<polygon points="1126.4,1449.51 1110.8,1422.49 1142,1422.49" fill="#0000ff"/>
<polygon points="1164.6,1458.71 1149,1431.69 1180.2,1431.69" fill="#0000ff"/>
<polygon points="1202.8,1466.71 1187.2,1439.69 1218.4,1439.69" fill="#0000ff"/>
<polygon points="1241,1473.91 1225.4,1446.89 1256.6,1446.89" fill="#0000ff"/>
<polygon points="1279.2,1480.01 1263.6,1452.99 1294.8,1452.99" fill="#0000ff"/>
<polygon points="1317.4,1484.91 1301.8,1457.89 1333,1457.89" fill="#0000ff"/>
<polygon points="1355.6,1485.41 1340,1458.39 1371.2,1458.39" fill="#0000ff"/>
<polygon points="1393.8,1485.41 1378.2,1458.39 1409.4,1458.39" fill="#0000ff"/>
<polygon points="1432,1485.41 1416.4,1458.39 1447.6,1458.39" fill="#0000ff"/>
<polygon points="1470.2,1485.41 1454.6,1458.39 1485.8,1458.39" fill="#0000ff"/>
<polygon points="1508.4,1485.41 1492.8,1458.39 1524,1458.39" fill="#0000ff"/>
<polygon points="1546.6,1485.41 1531,1458.39 1562.2,1458.39" fill="#0000ff"/>
<polygon points="1584.8,1485.41 1569.2,1458.39 1600.4,1458.39" fill="#0000ff"/>
<polyline points="1011.8,1194.9 1050,1285.5 1088.2,1345.6 1126.4,1386 1164.6,1415.5 1202.8,1435.5 1241,1450.4 1279.2,1461.3 1317.4,1467 1355.6,1467.4 1393.8,1467.4 1432,1467.4 1470.2,1467.4 1508.4,1467.4 1546.6,1467.4 1584.8,1467.4" fill="none" stroke="#000000" stroke-width="7" stroke-linecap="round" stroke-linejoin="round" />
<polyline points="1279.2,1250.6 1317.4,1381.6 1355.6,1426.8 1393.8,1451.5 1432,1467.4 1470.2,1467.4 1508.4,1467.4 1546.6,1467.4 1584.8,1467.4" fill="none" stroke="#ff0000" stroke-width="7" stroke-linecap="round" stroke-linejoin="round" />
</g>
<rect x="973.7" y="858" width="649.4" height="647.5" fill="none" stroke="#000" stroke-width="1.4"/>
<line x1="969.9" y1="1467.5" x2="973.7" y2="1467.5" stroke="#000000" stroke-width="1.1" stroke-linecap="butt" />
<line x1="1619.3" y1="1467.5" x2="1623.1" y2="1467.5" stroke="#000000" stroke-width="1.1" stroke-linecap="butt" />
<line x1="969.9" y1="1440.5" x2="973.7" y2="1440.5" stroke="#000000" stroke-width="1.1" stroke-linecap="butt" />
<line x1="1619.3" y1="1440.5" x2="1623.1" y2="1440.5" stroke="#000000" stroke-width="1.1" stroke-linecap="butt" />
<line x1="969.9" y1="1419.5" x2="973.7" y2="1419.5" stroke="#000000" stroke-width="1.1" stroke-linecap="butt" />
<line x1="1619.3" y1="1419.5" x2="1623.1" y2="1419.5" stroke="#000000" stroke-width="1.1" stroke-linecap="butt" />
<line x1="969.9" y1="1402.5" x2="973.7" y2="1402.5" stroke="#000000" stroke-width="1.1" stroke-linecap="butt" />
<line x1="1619.3" y1="1402.5" x2="1623.1" y2="1402.5" stroke="#000000" stroke-width="1.1" stroke-linecap="butt" />
<line x1="969.9" y1="1387.5" x2="973.7" y2="1387.5" stroke="#000000" stroke-width="1.1" stroke-linecap="butt" />
<line x1="1619.3" y1="1387.5" x2="1623.1" y2="1387.5" stroke="#000000" stroke-width="1.1" stroke-linecap="butt" />
<line x1="969.9" y1="1375.5" x2="973.7" y2="1375.5" stroke="#000000" stroke-width="1.1" stroke-linecap="butt" />
<line x1="1619.3" y1="1375.5" x2="1623.1" y2="1375.5" stroke="#000000" stroke-width="1.1" stroke-linecap="butt" />
<line x1="969.9" y1="1364.5" x2="973.7" y2="1364.5" stroke="#000000" stroke-width="1.1" stroke-linecap="butt" />
<line x1="1619.3" y1="1364.5" x2="1623.1" y2="1364.5" stroke="#000000" stroke-width="1.1" stroke-linecap="butt" />
<line x1="966.8" y1="1354.5" x2="973.7" y2="1354.5" stroke="#000000" stroke-width="1.1" stroke-linecap="butt" />
<line x1="1616.2" y1="1354.5" x2="1623.1" y2="1354.5" stroke="#000000" stroke-width="1.1" stroke-linecap="butt" />
<line x1="969.9" y1="1289.5" x2="973.7" y2="1289.5" stroke="#000000" stroke-width="1.1" stroke-linecap="butt" />
<line x1="1619.3" y1="1289.5" x2="1623.1" y2="1289.5" stroke="#000000" stroke-width="1.1" stroke-linecap="butt" />
<line x1="969.9" y1="1251.5" x2="973.7" y2="1251.5" stroke="#000000" stroke-width="1.1" stroke-linecap="butt" />
<line x1="1619.3" y1="1251.5" x2="1623.1" y2="1251.5" stroke="#000000" stroke-width="1.1" stroke-linecap="butt" />
<line x1="969.9" y1="1224.5" x2="973.7" y2="1224.5" stroke="#000000" stroke-width="1.1" stroke-linecap="butt" />
<line x1="1619.3" y1="1224.5" x2="1623.1" y2="1224.5" stroke="#000000" stroke-width="1.1" stroke-linecap="butt" />
<line x1="969.9" y1="1203.5" x2="973.7" y2="1203.5" stroke="#000000" stroke-width="1.1" stroke-linecap="butt" />
<line x1="1619.3" y1="1203.5" x2="1623.1" y2="1203.5" stroke="#000000" stroke-width="1.1" stroke-linecap="butt" />
<line x1="969.9" y1="1186.5" x2="973.7" y2="1186.5" stroke="#000000" stroke-width="1.1" stroke-linecap="butt" />
<line x1="1619.3" y1="1186.5" x2="1623.1" y2="1186.5" stroke="#000000" stroke-width="1.1" stroke-linecap="butt" />
<line x1="969.9" y1="1172.5" x2="973.7" y2="1172.5" stroke="#000000" stroke-width="1.1" stroke-linecap="butt" />
<line x1="1619.3" y1="1172.5" x2="1623.1" y2="1172.5" stroke="#000000" stroke-width="1.1" stroke-linecap="butt" />
<line x1="969.9" y1="1159.5" x2="973.7" y2="1159.5" stroke="#000000" stroke-width="1.1" stroke-linecap="butt" />
<line x1="1619.3" y1="1159.5" x2="1623.1" y2="1159.5" stroke="#000000" stroke-width="1.1" stroke-linecap="butt" />
<line x1="969.9" y1="1148.5" x2="973.7" y2="1148.5" stroke="#000000" stroke-width="1.1" stroke-linecap="butt" />
<line x1="1619.3" y1="1148.5" x2="1623.1" y2="1148.5" stroke="#000000" stroke-width="1.1" stroke-linecap="butt" />
<line x1="966.8" y1="1138.5" x2="973.7" y2="1138.5" stroke="#000000" stroke-width="1.1" stroke-linecap="butt" />
<line x1="1616.2" y1="1138.5" x2="1623.1" y2="1138.5" stroke="#000000" stroke-width="1.1" stroke-linecap="butt" />
<line x1="969.9" y1="1073.5" x2="973.7" y2="1073.5" stroke="#000000" stroke-width="1.1" stroke-linecap="butt" />
<line x1="1619.3" y1="1073.5" x2="1623.1" y2="1073.5" stroke="#000000" stroke-width="1.1" stroke-linecap="butt" />
<line x1="969.9" y1="1035.5" x2="973.7" y2="1035.5" stroke="#000000" stroke-width="1.1" stroke-linecap="butt" />
<line x1="1619.3" y1="1035.5" x2="1623.1" y2="1035.5" stroke="#000000" stroke-width="1.1" stroke-linecap="butt" />
<line x1="969.9" y1="1008.5" x2="973.7" y2="1008.5" stroke="#000000" stroke-width="1.1" stroke-linecap="butt" />
<line x1="1619.3" y1="1008.5" x2="1623.1" y2="1008.5" stroke="#000000" stroke-width="1.1" stroke-linecap="butt" />
<line x1="969.9" y1="987.5" x2="973.7" y2="987.5" stroke="#000000" stroke-width="1.1" stroke-linecap="butt" />
<line x1="1619.3" y1="987.5" x2="1623.1" y2="987.5" stroke="#000000" stroke-width="1.1" stroke-linecap="butt" />
<line x1="969.9" y1="970.5" x2="973.7" y2="970.5" stroke="#000000" stroke-width="1.1" stroke-linecap="butt" />
<line x1="1619.3" y1="970.5" x2="1623.1" y2="970.5" stroke="#000000" stroke-width="1.1" stroke-linecap="butt" />
<line x1="969.9" y1="956.5" x2="973.7" y2="956.5" stroke="#000000" stroke-width="1.1" stroke-linecap="butt" />
<line x1="1619.3" y1="956.5" x2="1623.1" y2="956.5" stroke="#000000" stroke-width="1.1" stroke-linecap="butt" />
<line x1="969.9" y1="943.5" x2="973.7" y2="943.5" stroke="#000000" stroke-width="1.1" stroke-linecap="butt" />
<line x1="1619.3" y1="943.5" x2="1623.1" y2="943.5" stroke="#000000" stroke-width="1.1" stroke-linecap="butt" />
<line x1="969.9" y1="932.5" x2="973.7" y2="932.5" stroke="#000000" stroke-width="1.1" stroke-linecap="butt" />
<line x1="1619.3" y1="932.5" x2="1623.1" y2="932.5" stroke="#000000" stroke-width="1.1" stroke-linecap="butt" />
<line x1="966.8" y1="923.5" x2="973.7" y2="923.5" stroke="#000000" stroke-width="1.1" stroke-linecap="butt" />
<line x1="1616.2" y1="923.5" x2="1623.1" y2="923.5" stroke="#000000" stroke-width="1.1" stroke-linecap="butt" />
<line x1="1011.5" y1="1505.5" x2="1011.5" y2="1512.4" stroke="#000000" stroke-width="1.2" stroke-linecap="butt" />
<line x1="1011.5" y1="858" x2="1011.5" y2="864.55" stroke="#000000" stroke-width="1.2" stroke-linecap="butt" />
<line x1="1088.5" y1="1505.5" x2="1088.5" y2="1509.3" stroke="#000000" stroke-width="1.2" stroke-linecap="butt" />
<line x1="1088.5" y1="858" x2="1088.5" y2="861.61" stroke="#000000" stroke-width="1.2" stroke-linecap="butt" />
<line x1="1164.5" y1="1505.5" x2="1164.5" y2="1512.4" stroke="#000000" stroke-width="1.2" stroke-linecap="butt" />
<line x1="1164.5" y1="858" x2="1164.5" y2="864.55" stroke="#000000" stroke-width="1.2" stroke-linecap="butt" />
<line x1="1241.5" y1="1505.5" x2="1241.5" y2="1509.3" stroke="#000000" stroke-width="1.2" stroke-linecap="butt" />
<line x1="1241.5" y1="858" x2="1241.5" y2="861.61" stroke="#000000" stroke-width="1.2" stroke-linecap="butt" />
<line x1="1317.5" y1="1505.5" x2="1317.5" y2="1512.4" stroke="#000000" stroke-width="1.2" stroke-linecap="butt" />
<line x1="1317.5" y1="858" x2="1317.5" y2="864.55" stroke="#000000" stroke-width="1.2" stroke-linecap="butt" />
<line x1="1393.5" y1="1505.5" x2="1393.5" y2="1509.3" stroke="#000000" stroke-width="1.2" stroke-linecap="butt" />
<line x1="1393.5" y1="858" x2="1393.5" y2="861.61" stroke="#000000" stroke-width="1.2" stroke-linecap="butt" />
<line x1="1470.5" y1="1505.5" x2="1470.5" y2="1512.4" stroke="#000000" stroke-width="1.2" stroke-linecap="butt" />
<line x1="1470.5" y1="858" x2="1470.5" y2="864.55" stroke="#000000" stroke-width="1.2" stroke-linecap="butt" />
<line x1="1546.5" y1="1505.5" x2="1546.5" y2="1509.3" stroke="#000000" stroke-width="1.2" stroke-linecap="butt" />
<line x1="1546.5" y1="858" x2="1546.5" y2="861.61" stroke="#000000" stroke-width="1.2" stroke-linecap="butt" />
<line x1="1623.5" y1="1505.5" x2="1623.5" y2="1512.4" stroke="#000000" stroke-width="1.2" stroke-linecap="butt" />
<text transform="translate(961.9 1372.5) scale(1 1.0400)" font-family='"Liberation Serif", "Times New Roman", serif' font-size="45.8" text-anchor="end"  >10<tspan font-size="27.6" dy="-21.06">1</tspan></text>
<text transform="translate(961.9 1156.75) scale(1 1.0400)" font-family='"Liberation Serif", "Times New Roman", serif' font-size="45.8" text-anchor="end"  >10<tspan font-size="27.6" dy="-21.06">2</tspan></text>
<text transform="translate(961.9 941) scale(1 1.0400)" font-family='"Liberation Serif", "Times New Roman", serif' font-size="45.8" text-anchor="end"  >10<tspan font-size="27.6" dy="-21.06">3</tspan></text>
<text transform="translate(1011.8 1552.2) scale(1 1.0400)" font-family='"Liberation Serif", "Times New Roman", serif' font-size="45.8" text-anchor="middle"  >0.2</text>
<text transform="translate(1164.6 1552.2) scale(1 1.0400)" font-family='"Liberation Serif", "Times New Roman", serif' font-size="45.8" text-anchor="middle"  >0.4</text>
<text transform="translate(1317.4 1552.2) scale(1 1.0400)" font-family='"Liberation Serif", "Times New Roman", serif' font-size="45.8" text-anchor="middle"  >0.6</text>
<text transform="translate(1470.2 1552.2) scale(1 1.0400)" font-family='"Liberation Serif", "Times New Roman", serif' font-size="45.8" text-anchor="middle"  >0.8</text>
<text transform="translate(1623 1552.2) scale(1 1.0400)" font-family='"Liberation Serif", "Times New Roman", serif' font-size="45.8" text-anchor="middle"  >1.0</text>
<text transform="translate(892.9,1160.5) rotate(-90)" font-family='"Liberation Serif", "Times New Roman", serif' font-size="70" font-style="italic" font-weight="bold" text-anchor="middle">r</text>
<text x="1221" y="1629.3" font-family='"Liberation Serif", "Times New Roman", serif' font-size="55" text-anchor="start"  ><tspan font-style="italic">p</tspan><tspan font-size="33" dy="19.5">out1</tspan><tspan dy="-19.5">/</tspan><tspan font-style="italic">p</tspan><tspan font-size="33" dy="19.5">in</tspan></text>
<line x1="1126" y1="895.5" x2="1217.2" y2="895.5" stroke="#000000" stroke-width="1" stroke-linecap="butt" />
<rect x="1159.6" y="883.4" width="23.4" height="23.4" fill="#000000"/>
<line x1="1126" y1="944.5" x2="1217.2" y2="944.5" stroke="#00ff00" stroke-width="1" stroke-linecap="butt" />
<polygon points="1171.3,926.79 1155.7,953.81 1186.9,953.81" fill="#00ff00"/>
<line x1="1126.7" y1="995" x2="1216.8" y2="995" stroke="#000000" stroke-width="7" stroke-linecap="round" />
<line x1="1126.7" y1="1044.9" x2="1216.8" y2="1044.9" stroke="#ff0000" stroke-width="7" stroke-linecap="round" />
<text transform="translate(1226.4 908.7) scale(1 1.0350)" font-family='"Liberation Serif", "Times New Roman", serif' font-size="40.5" text-anchor="start"  >Sq</text>
<text transform="translate(1226.4 958.4) scale(1 1.0350)" font-family='"Liberation Serif", "Times New Roman", serif' font-size="40.5" text-anchor="start"  >Sg</text>
<text transform="translate(1226.4 1008.6) scale(1 1.0350)" font-family='"Liberation Serif", "Times New Roman", serif' font-size="40.5" text-anchor="start"  >Sq(1 group)</text>
<text transform="translate(1226.4 1058.5) scale(1 1.0350)" font-family='"Liberation Serif", "Times New Roman", serif' font-size="40.5" text-anchor="start"  >Sp(1 group)</text>
<line x1="1430" y1="895.5" x2="1520.9" y2="895.5" stroke="#ff0000" stroke-width="1" stroke-linecap="butt" />
<circle cx="1475" cy="895" r="13.1" fill="#ff0000"/>
<line x1="1430" y1="944.5" x2="1520.9" y2="944.5" stroke="#0000ff" stroke-width="1" stroke-linecap="butt" />
<polygon points="1475,962.61 1459.4,935.59 1490.6,935.59" fill="#0000ff"/>
<text transform="translate(1530.3 908.6) scale(1 1.0350)" font-family='"Liberation Serif", "Times New Roman", serif' font-size="40.5" text-anchor="start"  >Sp</text>
<text transform="translate(1530.3 958.2) scale(1 1.0350)" font-family='"Liberation Serif", "Times New Roman", serif' font-size="40.5" text-anchor="start"  >Mod</text>
<text transform="translate(1124.8 1109.1) scale(1 1.0350)" font-family='"Liberation Serif", "Times New Roman", serif' font-size="40.5" text-anchor="start"  >For two-level networks</text>
<text x="1126" y="1159" font-family='"Liberation Serif", "Times New Roman", serif' font-size="40.5" text-anchor="start"  ><tspan font-style="italic">p</tspan><tspan font-size="24.5" dy="12.7">out2</tspan></text>
<text transform="translate(1188.2 1159) scale(1 1.0600)" font-family='"Liberation Serif", "Times New Roman", serif' font-size="40.5" text-anchor="start"  >=0.2</text>
</svg>
</body></html>
